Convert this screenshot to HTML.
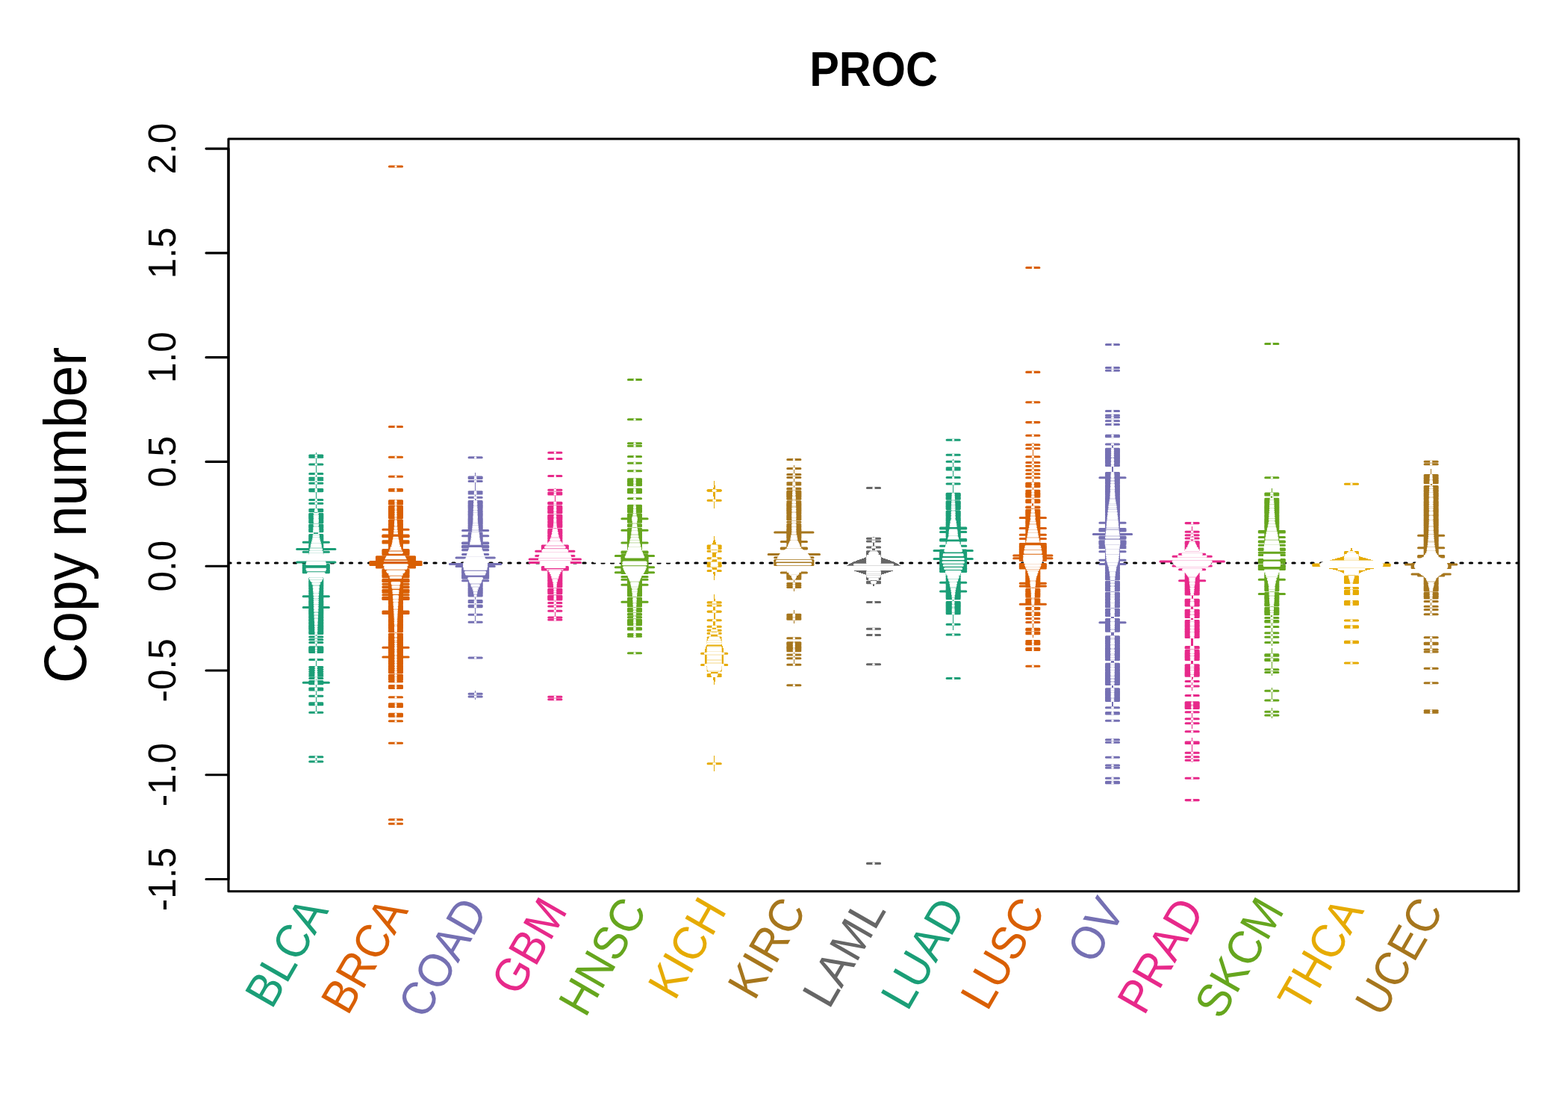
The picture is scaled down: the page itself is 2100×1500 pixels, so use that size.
<!DOCTYPE html>
<html lang="en"><head><meta charset="utf-8"><title>PROC copy number</title>
<style>html,body{margin:0;padding:0;background:#fff}body{width:2100px;height:1500px;overflow:hidden}svg{display:block}text{font-family:"Liberation Sans",sans-serif;fill:#000}.ln path{fill:none;stroke-width:3.125;stroke-linecap:round}.ln path.bn{stroke:none;shape-rendering:crispEdges}.ln path.wi{stroke-width:3.125}.ax{fill:none;stroke:#000;stroke-width:3.125;stroke-linecap:round;stroke-linejoin:round}</style></head><body>
<svg width="2100" height="1500" viewBox="0 0 2100 1500">
<rect width="2100" height="1500" fill="#fff"/>
<defs><clipPath id="pr"><rect x="306.0" y="186.0" width="1728.0" height="1007.8"/></clipPath></defs>
<path d="M306.0 754.0H2034.0" class="ax" stroke-dasharray="3.125 9.375" clip-path="url(#pr)"/>
<path d="M796.67 750.5h106.66" style="fill:none;stroke:#fff;stroke-width:6.25;stroke-linecap:round"/>
<g class="ln">
<g><path d="M423 606H424V684H423ZM422 684H424V685H422ZM422 685H425V686H422ZM421 686H425V687H421ZM421 687H426V693H421ZM421 693H425V701H421ZM421 701H426V711H421ZM420 711H426V716H420ZM420 716H427V722H420ZM419 722H427V723H419ZM419 723H428V726H419ZM418 726H428V727H418ZM418 727H429V729H418ZM417 729H429V731H417ZM417 731H430V734H417ZM416 734H430V735H416ZM416 735H431V738H416ZM415 738H431V740H415ZM415 740H432V744H415ZM414 744H432V745H414ZM414 745H433V747H414ZM413 747H433V748H413ZM413 748H434V750H413ZM412 750H434V751H412ZM412 751H435V753H412ZM411 753H435V755H411ZM411 755H436V763H411ZM411 763H435V764H411ZM412 764H435V767H412ZM412 767H434V768H412ZM413 768H434V770H413ZM413 770H433V771H413ZM414 771H433V772H414ZM414 772H432V773H414ZM415 773H432V774H415ZM415 774H431V775H415ZM416 775H431V776H416ZM416 776H430V777H416ZM417 777H430V778H417ZM417 778H429V779H417ZM418 779H429V780H418ZM418 780H428V781H418ZM419 781H428V782H419ZM419 782H427V783H419ZM420 783H427V786H420ZM420 786H426V790H420ZM421 790H426V801H421ZM421 801H425V815H421ZM422 815H425V831H422ZM422 831H424V838H422ZM423 838H424V865H423ZM423 883H424V954H423ZM423 1012H424V1022H423Z" class="bn" style="fill:#1B9E77"/>
<path d="M414.8 612.2h17.07M414.8 622h17.07M414.8 634.5h17.07M414.8 642.8h17.07M414.8 657.6h17.07M414.8 669.5h17.07M414.8 682.5h17.07M414.8 684.5h17.07M414.8 853h17.07M414.8 856.8h17.07M414.8 905.3h17.07M414.8 908.5h17.07M414.8 912.6h17.07M414.8 922h17.07M414.8 924h17.07M414.8 943.7h17.07M414.8 954.2h17.07M397.73 735.5h51.2M406.27 798.8h34.13M414.8 688.26h17.07M414.8 692.07h17.07M414.8 699.69h17.07M414.8 704.34h17.07M414.8 709.27h17.07M414.8 711.74h17.07M414.8 716.56h17.07M414.8 719.34h17.07M414.8 726.28h17.07M414.8 727.67h17.07M414.8 729.06h17.07M414.8 733.22h17.07M414.8 734.61h17.07M414.8 737.38h17.07M414.8 738.77h17.07M414.8 740.16h17.07M414.8 779.03h17.07M414.8 783.19h17.07M414.8 792.91h17.07M414.8 794.3h17.07M414.8 798.46h17.07M414.8 801.24h17.07M414.8 809.57h17.07M414.8 812.35h17.07M414.8 816.51h17.07M414.8 820.67h17.07M414.8 827.62h17.07M414.8 829h17.07M414.8 831.78h17.07M414.8 833.17h17.07M414.8 835.94h17.07M414.8 837.33h17.07M414.8 840.11h17.07M414.8 847.05h17.07M406.27 757.83h34.13M406.27 761.65h34.13M406.27 762.92h34.13M406.27 765.47h34.13M414.8 869.49h17.07M414.8 872.12h17.07" stroke="#1B9E77"/>
<path d="M423.07 612.2h0.53M423.15 622h0.37M423.06 634.5h0.55M422.95 642.8h0.78M423.04 657.6h0.58M423.08 669.5h0.51M422.75 682.5h1.16M422.35 684.5h1.96M422.87 853h0.94M422.9 856.8h0.86M422.69 905.3h1.29M422.65 908.5h1.37M422.62 912.6h1.43M422.84 922h0.98M422.91 924h0.85M423.05 943.7h0.56M423.17 954.2h0.32M416.12 735.5h14.42M421.06 798.8h4.55M421.07 688.26h4.53M421.14 692.07h4.39M421.21 699.69h4.25M420.94 704.34h4.78M420.62 709.27h5.44M420.45 711.74h5.76M420.14 716.56h6.39M419.95 719.34h6.77M418.3 726.28h10.07M417.94 727.67h10.79M417.58 729.06h11.5M416.62 733.22h13.42M416.32 734.61h14.03M415.71 737.38h15.25M415.41 738.77h15.86M415.13 740.16h16.42M414.66 742.94h17.34M414.06 745.71h18.56M412.11 751.27h22.45M410.67 756.82h25.32M410.62 758.21h25.43M410.79 760.98h25.09M411.33 763.76h24M412.12 766.54h22.43M417.76 779.03h11.14M419.48 783.19h7.7M420.71 792.91h5.25M420.79 794.3h5.08M421.04 798.46h4.58M421.16 801.24h4.35M421.35 809.57h3.96M421.42 812.35h3.83M421.58 816.51h3.51M421.75 820.67h3.17M422.04 827.62h2.6M422.09 829h2.48M422.22 831.78h2.23M422.28 833.17h2.11M422.41 835.94h1.85M422.47 837.33h1.73M422.59 840.11h1.49M422.8 847.05h1.06M423.27 869.49h0.14M423.28 872.12h0.1" stroke="#fff" class="wi"/>
<path d="M414.8 610h17.07M414.8 674.3h17.07M414.8 860.5h17.07M414.8 896.5h17.07M414.8 902.5h17.07M414.8 941.7h17.07M406.27 726.2h34.13M414.8 689.53h17.07M414.8 694.61h17.07M414.8 695.88h17.07M414.8 697.15h17.07M414.8 698.42h17.07M414.8 705.58h17.07M414.8 717.95h17.07M414.8 722.12h17.07M414.8 724.89h17.07M414.8 731.83h17.07M414.8 741.55h17.07M414.8 776.25h17.07M414.8 777.64h17.07M414.8 780.42h17.07M414.8 784.58h17.07M414.8 788.75h17.07M414.8 790.13h17.07M414.8 791.52h17.07M414.8 795.69h17.07M414.8 797.08h17.07M414.8 802.63h17.07M414.8 804.02h17.07M414.8 806.79h17.07M414.8 810.96h17.07M414.8 819.29h17.07M414.8 823.45h17.07M414.8 824.84h17.07M414.8 830.39h17.07M414.8 834.56h17.07M414.8 842.88h17.07M414.8 844.27h17.07M414.8 845.66h17.07M406.27 756.56h34.13M406.27 760.38h34.13M406.27 764.19h34.13M414.8 866.86h17.07M414.8 870.81h17.07" stroke="#1B9E77"/>
<path d="M423.09 610h0.5M423.01 674.3h0.64M423.02 860.5h0.62M422.85 896.5h0.97M422.73 902.5h1.21M423.05 941.7h0.57M418.32 726.2h10.02M421.08 689.53h4.51M421.18 694.61h4.3M421.2 695.88h4.27M421.21 697.15h4.24M421.22 698.42h4.23M420.86 705.58h4.94M420.06 717.95h6.55M419.38 722.12h7.9M418.66 724.89h9.34M416.93 731.83h12.81M414.89 741.55h16.9M413.09 748.49h20.49M412.59 749.88h21.48M411.68 752.65h23.31M411.3 754.04h24.06M410.69 759.6h25.29M410.99 762.37h24.69M411.73 765.15h23.22M413.01 769.31h20.65M413.51 770.7h19.66M414.02 772.09h18.62M414.65 773.48h17.37M416.19 776.25h14.28M416.99 777.64h12.7M418.44 780.42h9.79M419.92 784.58h6.82M420.43 788.75h5.8M420.54 790.13h5.6M420.62 791.52h5.42M420.87 795.69h4.92M420.96 797.08h4.75M421.19 802.63h4.28M421.23 804.02h4.21M421.29 806.79h4.09M421.39 810.96h3.89M421.69 819.29h3.28M421.86 823.45h2.94M421.92 824.84h2.83M422.15 830.39h2.36M422.34 834.56h1.98M422.69 842.88h1.28M422.74 844.27h1.19M422.77 845.66h1.12M423.22 866.86h0.23M423.28 870.81h0.11" stroke="#fff" class="wi"/>
<path d="M414.8 640.3h17.07M414.8 647.3h17.07M414.8 655.5h17.07M414.8 883.5h17.07M414.8 893.5h17.07M414.8 899.5h17.07M414.8 915.8h17.07M414.8 932.3h17.07M414.8 1013.7h17.07M414.8 1020h17.07M406.27 739.2h34.13M397.73 753h51.2M406.27 813.5h34.13M406.27 914.2h34.13M414.8 690.8h17.07M414.8 693.34h17.07M414.8 703.11h17.07M414.8 706.81h17.07M414.8 708.04h17.07M414.8 710.51h17.07M414.8 720.73h17.07M414.8 723.5h17.07M414.8 730.44h17.07M414.8 736h17.07M414.8 774.87h17.07M414.8 781.81h17.07M414.8 785.97h17.07M414.8 787.36h17.07M414.8 799.85h17.07M414.8 805.4h17.07M414.8 808.18h17.07M414.8 813.73h17.07M414.8 815.12h17.07M414.8 817.9h17.07M414.8 822.06h17.07M414.8 826.23h17.07M414.8 838.72h17.07M414.8 841.5h17.07M414.8 848.44h17.07M406.27 759.11h34.13M406.27 766.74h34.13M414.8 868.18h17.07M414.8 873.44h17.07" stroke="#1B9E77"/>
<path d="M422.96 640.3h0.75M422.97 647.3h0.73M423.02 655.5h0.62M423.16 883.5h0.34M422.94 893.5h0.8M422.78 899.5h1.11M422.65 915.8h1.36M423.07 932.3h0.52M423.14 1013.7h0.38M423.14 1020h0.38M415.31 739.2h16.04M411.58 753h23.51M421.46 813.5h3.75M422.63 914.2h1.41M421.11 690.8h4.44M421.16 693.34h4.34M421.02 703.11h4.62M420.78 706.81h5.11M420.7 708.04h5.27M420.53 710.51h5.6M419.72 720.73h7.22M419.02 723.5h8.62M417.24 730.44h12.18M416.01 736h14.64M414.42 744.33h17.84M413.58 747.1h19.5M410.94 755.43h24.78M412.54 767.92h21.59M415.4 774.87h15.87M418.98 781.81h8.7M420.19 785.97h6.28M420.32 787.36h6.02M421.11 799.85h4.44M421.26 805.4h4.15M421.32 808.18h4.02M421.47 813.73h3.74M421.52 815.12h3.63M421.63 817.9h3.4M421.81 822.06h3.05M421.98 826.23h2.71M422.53 838.72h1.61M422.64 841.5h1.38M422.83 848.44h1.02M423.25 868.18h0.18M423.28 873.44h0.1" stroke="#fff" class="wi"/></g>
<g><path d="M529 700H531V713H529ZM528 713H532V721H528ZM527 721H533V726H527ZM526 726H534V731H526ZM525 731H535V733H525ZM524 733H536V736H524ZM523 736H537V738H523ZM522 738H538V740H522ZM521 740H539V742H521ZM520 742H540V744H520ZM519 744H541V746H519ZM518 746H542V748H518ZM517 748H543V750H517ZM516 750H544V752H516ZM515 752H545V754H515ZM514 754H546V756H514ZM515 756H545V759H515ZM516 759H544V762H516ZM517 762H543V763H517ZM518 763H542V765H518ZM519 765H541V766H519ZM520 766H540V768H520ZM521 768H539V769H521ZM522 769H538V771H522ZM523 771H537V775H523ZM524 775H536V778H524ZM525 778H535V783H525ZM526 783H534V789H526ZM527 789H533V800H527ZM528 800H532V818H528ZM529 818H531V848H529Z" class="bn" style="fill:#D95F02"/>
<path d="M521.47 912.8h17.07M512.93 709.2h34.13M512.93 880h34.13M521.47 682.55h17.07M521.47 686.69h17.07M521.47 689.45h17.07M521.47 693.59h17.07M521.47 697.01h17.07M521.47 703.96h17.07M521.47 705.36h17.07M521.47 708.14h17.07M521.47 712.31h17.07M521.47 716.48h17.07M521.47 719.26h17.07M521.47 735.94h17.07M521.47 770.7h17.07M521.47 772.1h17.07M521.47 774.88h17.07M521.47 776.27h17.07M521.47 783.22h17.07M521.47 788.78h17.07M521.47 790.17h17.07M521.47 795.73h17.07M521.47 806.86h17.07M521.47 812.42h17.07M521.47 815.2h17.07M521.47 816.59h17.07M521.47 819.37h17.07M521.47 822.15h17.07M521.47 827.71h17.07M521.47 829.1h17.07M521.47 837.44h17.07M521.47 849.21h17.07M521.47 853.39h17.07M521.47 858.97h17.07M521.47 860.36h17.07M521.47 863.15h17.07M521.47 865.94h17.07M521.47 867.33h17.07M521.47 878.48h17.07M521.47 881.27h17.07M521.47 885.45h17.07M521.47 895.21h17.07M521.47 908.95h17.07M521.47 910.14h17.07M512.93 717.95h34.13M512.93 724.76h34.13M512.93 725.9h34.13M512.93 727.04h34.13M512.93 737.78h34.13M504.4 745.76h51.2M504.4 747.05h51.2M504.4 748.34h51.2M504.4 749.63h51.2M504.4 756.07h51.2M495.87 755.15h68.27M495.87 756.44h68.27M512.93 763.06h34.13M512.93 765.8h34.13M512.93 771.27h34.13M512.93 772.64h34.13M512.93 778.64h34.13M512.93 785.86h34.13M512.93 786.64h34.13M512.93 791.75h34.13M512.93 793.14h34.13M521.47 918.56h17.07M521.47 919.52h17.07M521.47 921.44h17.07M521.47 959.24h17.07" stroke="#D95F02"/>
<path d="M529.86 912.8h0.29M528.85 709.2h2.29M529.73 880h0.55M529.84 682.55h0.33M529.82 686.69h0.37M529.8 689.45h0.4M529.69 693.59h0.62M529.59 697.01h0.82M529.22 703.96h1.56M529.13 705.36h1.75M528.93 708.14h2.14M528.57 712.31h2.86M528.15 716.48h3.7M527.86 719.26h4.27M523.42 735.94h13.16M520.97 741.51h18.06M517.19 748.46h25.62M516.5 749.85h27M515.83 751.24h28.35M514.53 754.02h30.93M515.14 758.19h29.72M516.84 762.36h26.32M517.75 763.75h24.5M520.72 767.92h18.56M522.35 770.7h15.31M522.79 772.1h14.43M523.57 774.88h12.87M523.95 776.27h12.09M525.51 783.22h8.97M526.4 788.78h7.2M526.59 790.17h6.81M527.12 795.73h5.77M527.88 806.86h4.25M528.18 812.42h3.63M528.34 815.2h3.33M528.41 816.59h3.18M528.56 819.37h2.87M528.71 822.15h2.58M528.99 827.71h2.03M529.05 829.1h1.89M529.32 837.44h1.35M529.52 849.21h0.97M529.57 853.39h0.87M529.64 858.97h0.73M529.65 860.36h0.7M529.66 863.15h0.68M529.67 865.94h0.66M529.68 867.33h0.64M529.72 878.48h0.56M529.73 881.27h0.54M529.75 885.45h0.51M529.78 895.21h0.44M529.84 908.95h0.33M529.84 910.14h0.31M529.93 918.56h0.13M529.95 919.52h0.11M529.96 921.44h0.07M529.97 959.24h0.05" stroke="#fff" class="wi"/>
<path d="M521.47 571.5h17.07M521.47 655.5h17.07M521.47 657.2h17.07M521.47 965.8h17.07M521.47 1103.3h17.07M521.47 670.76h17.07M521.47 671.82h17.07M521.47 672.88h17.07M521.47 673.93h17.07M521.47 678.41h17.07M521.47 681.17h17.07M521.47 683.93h17.07M521.47 692.21h17.07M521.47 706.75h17.07M521.47 709.53h17.07M521.47 713.7h17.07M521.47 715.09h17.07M521.47 717.87h17.07M521.47 720.65h17.07M521.47 722.04h17.07M521.47 726.21h17.07M521.47 728.99h17.07M521.47 731.77h17.07M521.47 733.16h17.07M521.47 734.55h17.07M521.47 737.33h17.07M521.47 738.73h17.07M521.47 777.66h17.07M521.47 779.05h17.07M521.47 784.61h17.07M521.47 787.39h17.07M521.47 792.95h17.07M521.47 797.12h17.07M521.47 802.68h17.07M521.47 804.07h17.07M521.47 805.47h17.07M521.47 817.98h17.07M521.47 820.76h17.07M521.47 824.93h17.07M521.47 831.88h17.07M521.47 836.05h17.07M521.47 838.84h17.07M521.47 845.79h17.07M521.47 854.79h17.07M521.47 857.58h17.07M521.47 861.76h17.07M521.47 870.12h17.07M521.47 872.91h17.07M521.47 877.09h17.07M521.47 879.88h17.07M521.47 888.24h17.07M521.47 892.42h17.07M521.47 898h17.07M521.47 899.39h17.07M521.47 900.79h17.07M521.47 904.21h17.07M521.47 905.4h17.07M521.47 906.58h17.07M512.93 718.74h34.13M512.93 736.56h34.13M512.93 740.21h34.13M504.4 750.92h51.2M504.4 752.21h51.2M504.4 757.36h51.2M504.4 758.65h51.2M504.4 759.94h51.2M495.87 752.56h68.27M495.87 753.85h68.27M512.93 767.17h34.13M512.93 768.53h34.13M512.93 769.9h34.13M512.93 782.25h34.13M512.93 800.36h34.13M512.93 802.44h34.13M512.93 819.06h34.13M512.93 820.25h34.13M512.93 821.44h34.13M521.47 942.86h17.07M521.47 944.05h17.07M521.47 946.44h17.07M521.47 958.25h17.07" stroke="#D95F02"/>
<path d="M529.95 571.5h0.09M529.91 655.5h0.18M529.91 657.2h0.19M529.95 965.8h0.09M529.92 1103.3h0.15M529.89 670.76h0.23M529.88 671.82h0.24M529.88 672.88h0.24M529.87 673.93h0.25M529.86 678.41h0.29M529.84 681.17h0.32M529.83 683.93h0.34M529.73 692.21h0.53M529.03 706.75h1.94M528.83 709.53h2.35M528.43 713.7h3.14M528.29 715.09h3.42M528.01 717.87h3.97M527.66 720.65h4.69M527.39 722.04h5.22M526.56 726.21h6.88M525.99 728.99h8.02M525.09 731.77h9.82M524.53 733.16h10.93M523.98 734.55h12.04M522.87 737.33h14.27M522.3 738.73h15.39M520.21 742.9h19.59M519.44 744.29h21.12M518.68 745.68h22.64M515.15 752.63h29.7M514.33 755.41h31.34M515.64 759.58h28.73M516.16 760.97h27.69M524.34 777.66h11.31M524.72 779.05h10.55M525.74 784.61h8.53M526.18 787.39h7.64M526.87 792.95h6.27M527.24 797.12h5.52M527.65 802.68h4.7M527.72 804.07h4.55M527.8 805.47h4.4M528.49 817.98h3.02M528.64 820.76h2.73M528.85 824.93h2.31M529.16 831.88h1.69M529.28 836.05h1.44M529.36 838.84h1.27M529.47 845.79h1.06M529.58 854.79h0.83M529.62 857.58h0.76M529.66 861.76h0.69M529.69 870.12h0.62M529.7 872.91h0.6M529.71 877.09h0.57M529.72 879.88h0.55M529.76 888.24h0.49M529.77 892.42h0.46M529.79 898h0.42M529.79 899.39h0.41M529.8 900.79h0.4M529.82 904.21h0.36M529.82 905.4h0.35M529.83 906.58h0.35M529.98 942.86h0.03M529.99 944.05h0.02M529.99 946.44h0.01M529.98 958.25h0.04" stroke="#fff" class="wi"/>
<path d="M521.47 223h17.07M521.47 612.2h17.07M521.47 638.3h17.07M521.47 933.7h17.07M521.47 995.3h17.07M521.47 1097.7h17.07M512.93 867.3h34.13M521.47 674.99h17.07M521.47 679.79h17.07M521.47 685.31h17.07M521.47 688.07h17.07M521.47 690.83h17.07M521.47 698.4h17.07M521.47 699.79h17.07M521.47 701.18h17.07M521.47 702.57h17.07M521.47 710.92h17.07M521.47 723.43h17.07M521.47 724.82h17.07M521.47 727.6h17.07M521.47 730.38h17.07M521.47 740.12h17.07M521.47 769.31h17.07M521.47 773.49h17.07M521.47 780.44h17.07M521.47 781.83h17.07M521.47 786h17.07M521.47 791.56h17.07M521.47 794.34h17.07M521.47 798.51h17.07M521.47 799.9h17.07M521.47 801.29h17.07M521.47 808.25h17.07M521.47 809.64h17.07M521.47 811.03h17.07M521.47 813.81h17.07M521.47 823.54h17.07M521.47 826.32h17.07M521.47 830.49h17.07M521.47 833.27h17.07M521.47 834.66h17.07M521.47 840.23h17.07M521.47 841.62h17.07M521.47 843.01h17.07M521.47 844.4h17.07M521.47 850.61h17.07M521.47 852h17.07M521.47 856.18h17.07M521.47 864.55h17.07M521.47 868.73h17.07M521.47 871.52h17.07M521.47 874.3h17.07M521.47 875.7h17.07M521.47 882.67h17.07M521.47 884.06h17.07M521.47 886.85h17.07M521.47 889.64h17.07M521.47 891.03h17.07M521.47 893.82h17.07M521.47 896.61h17.07M521.47 907.77h17.07M512.93 717.16h34.13M512.93 738.99h34.13M512.93 741.42h34.13M512.93 742.64h34.13M504.4 753.49h51.2M504.4 754.78h51.2M512.93 764.43h34.13M512.93 776.36h34.13M512.93 777.5h34.13M512.93 790.36h34.13M512.93 796.75h34.13M512.93 801.4h34.13M521.47 920.48h17.07M521.47 945.25h17.07M521.47 956.26h17.07M521.47 957.25h17.07" stroke="#D95F02"/>
<path d="M529.95 223h0.09M529.95 612.2h0.09M529.95 638.3h0.09M529.95 933.7h0.09M529.95 995.3h0.09M529.92 1097.7h0.15M529.68 867.3h0.65M529.87 674.99h0.26M529.85 679.79h0.3M529.82 685.31h0.36M529.81 688.07h0.38M529.77 690.83h0.45M529.55 698.4h0.9M529.49 699.79h1.01M529.42 701.18h1.17M529.32 702.57h1.36M528.71 710.92h2.59M527.11 723.43h5.77M526.84 724.82h6.33M526.28 727.6h7.44M525.6 730.38h8.8M521.69 740.12h16.62M517.92 747.07h24.16M514.64 756.8h30.71M518.74 765.14h22.52M519.73 766.53h20.54M521.66 769.31h16.69M523.18 773.49h13.65M525.04 780.44h9.91M525.29 781.83h9.41M525.96 786h8.08M526.74 791.56h6.52M526.99 794.34h6.02M527.37 798.51h5.27M527.48 799.9h5.04M527.57 801.29h4.86M527.95 808.25h4.09M528.03 809.64h3.94M528.11 811.03h3.79M528.26 813.81h3.48M528.78 823.54h2.45M528.92 826.32h2.17M529.11 830.49h1.78M529.2 833.27h1.6M529.24 834.66h1.52M529.4 840.23h1.2M529.42 841.62h1.16M529.44 843.01h1.12M529.45 844.4h1.09M529.53 850.61h0.93M529.55 852h0.9M529.6 856.18h0.8M529.67 864.55h0.67M529.68 868.73h0.63M529.69 871.52h0.61M529.7 874.3h0.59M529.71 875.7h0.58M529.73 882.67h0.53M529.74 884.06h0.52M529.75 886.85h0.5M529.76 889.64h0.48M529.77 891.03h0.47M529.78 893.82h0.45M529.79 896.61h0.43M529.83 907.77h0.34M529.96 920.48h0.09M529.99 945.25h0.02M529.99 956.26h0.03M529.98 957.25h0.03" stroke="#fff" class="wi"/></g>
<g><path d="M636 633H637V669H636ZM636 669H638V671H636ZM635 671H638V693H635ZM635 693H639V700H635ZM634 700H639V706H634ZM634 706H640V709H634ZM633 709H640V714H633ZM633 714H641V717H633ZM632 717H641V722H632ZM632 722H642V723H632ZM631 723H642V727H631ZM631 727H643V728H631ZM630 728H643V731H630ZM630 731H644V733H630ZM629 733H644V735H629ZM629 735H645V737H629ZM628 737H645V739H628ZM628 739H646V740H628ZM627 740H646V742H627ZM627 742H647V744H627ZM626 744H647V745H626ZM626 745H648V746H626ZM625 746H648V747H625ZM625 747H649V748H625ZM624 748H649V749H624ZM624 749H650V750H624ZM623 750H650V751H623ZM623 751H651V752H623ZM622 752H651V755H622ZM622 755H652V760H622ZM622 760H651V763H622ZM623 763H651V764H623ZM623 764H650V766H623ZM624 766H650V767H624ZM624 767H649V768H624ZM625 768H649V769H625ZM625 769H648V771H625ZM626 771H647V772H626ZM627 772H647V773H627ZM627 773H646V774H627ZM628 774H646V775H628ZM628 775H645V776H628ZM629 776H645V777H629ZM629 777H644V778H629ZM630 778H644V779H630ZM630 779H643V781H630ZM631 781H642V783H631ZM632 783H642V784H632ZM632 784H641V785H632ZM633 785H641V786H633ZM633 786H640V787H633ZM634 787H640V788H634ZM634 788H639V790H634ZM635 790H639V791H635ZM635 791H638V794H635ZM636 794H638V796H636ZM636 796H637V834H636ZM636 925H637V937H636Z" class="bn" style="fill:#7570B3"/>
<path d="M628.13 811h17.07M628.13 929.2h17.07M628.13 933h17.07M619.6 710.5h34.13M602.53 755.5h68.27M611.07 758.5h51.2M628.13 677.11h17.07M628.13 679.88h17.07M628.13 681.27h17.07M628.13 682.66h17.07M628.13 684.04h17.07M628.13 689.59h17.07M628.13 695.13h17.07M628.13 700.68h17.07M628.13 710.39h17.07M628.13 719.33h17.07M628.13 722.09h17.07M628.13 728.98h17.07M628.13 733.12h17.07M628.13 781.39h17.07M628.13 789.66h17.07M628.13 792.42h17.07M628.13 795.18h17.07M628.13 796.56h17.07M619.6 727.64h34.13M619.6 732.94h34.13M619.6 736.65h34.13M619.6 767.6h34.13M619.6 768.91h34.13M619.6 770.22h34.13" stroke="#7570B3"/>
<path d="M636.18 811h0.98M636.41 929.2h0.51M636.41 933h0.51M633.31 710.5h6.72M621.72 755.5h29.89M621.67 758.5h29.99M635.37 677.11h2.59M635.29 679.88h2.75M635.25 681.27h2.84M635.2 682.66h2.94M635.15 684.04h3.03M634.95 689.59h3.44M634.75 695.13h3.84M634.47 700.68h4.38M633.32 710.39h6.69M632.24 719.33h8.86M631.75 722.09h9.83M630.37 728.98h12.6M629.39 733.12h14.56M627.63 740.02h18.07M625.76 745.53h21.8M622.44 752.43h28.46M621.67 756.56h30M621.88 760.7h29.57M622.98 764.84h27.37M624.11 767.6h25.11M625.42 770.36h22.5M626.21 771.73h20.92M630.79 781.39h11.75M634.45 789.66h4.44M635.15 792.42h3.04M635.69 795.18h1.95M635.95 796.56h1.44" stroke="#fff" class="wi"/>
<path d="M628.13 639h17.07M628.13 658.7h17.07M628.13 661h17.07M628.13 804.6h17.07M628.13 823.3h17.07M628.13 881h17.07M619.6 742.5h34.13M628.13 672.95h17.07M628.13 678.5h17.07M628.13 685.43h17.07M628.13 686.82h17.07M628.13 697.91h17.07M628.13 702.07h17.07M628.13 703.45h17.07M628.13 706.23h17.07M628.13 709h17.07M628.13 724.85h17.07M628.13 726.22h17.07M628.13 727.6h17.07M628.13 730.36h17.07M628.13 731.74h17.07M628.13 735.88h17.07M628.13 777.25h17.07M628.13 782.77h17.07M628.13 785.53h17.07M628.13 786.9h17.07M628.13 793.8h17.07M628.13 797.94h17.07M619.6 727.06h34.13M619.6 732.15h34.13M619.6 763.68h34.13M619.6 766.29h34.13M619.6 771.52h34.13M619.6 774.14h34.13M619.6 777.75h34.13" stroke="#7570B3"/>
<path d="M636.3 639h0.73M636.28 658.7h0.77M636.21 661h0.92M636.14 804.6h1.06M636.44 823.3h0.46M636.53 881h0.28M626.83 742.5h19.67M635.45 672.95h2.43M635.33 678.5h2.67M635.1 685.43h3.13M635.05 686.82h3.23M634.64 697.91h4.05M634.32 702.07h4.7M634.15 703.45h5.03M633.82 706.23h5.69M633.49 709h6.36M631.2 724.85h10.94M630.92 726.22h11.49M630.65 727.6h12.04M630.06 730.36h13.2M629.73 731.74h13.87M628.7 735.88h15.94M626.28 744.15h20.77M624.24 748.29h24.86M622.04 753.81h29.26M621.67 757.94h30M622.57 763.46h28.2M624.73 768.98h23.88M627.03 773.11h19.26M629.07 777.25h15.2M631.41 782.77h10.51M632.65 785.53h8.03M633.27 786.9h6.79M635.42 793.8h2.49M636.14 797.94h1.04" stroke="#fff" class="wi"/>
<path d="M628.13 612.8h17.07M628.13 640.5h17.07M628.13 644.5h17.07M628.13 666.3h17.07M628.13 806.4h17.07M628.13 812.6h17.07M628.13 833.3h17.07M619.6 717.8h34.13M611.07 747h51.2M628.13 671.56h17.07M628.13 674.34h17.07M628.13 675.72h17.07M628.13 688.2h17.07M628.13 690.97h17.07M628.13 692.36h17.07M628.13 693.75h17.07M628.13 696.52h17.07M628.13 699.29h17.07M628.13 704.84h17.07M628.13 707.61h17.07M628.13 713.81h17.07M628.13 715.19h17.07M628.13 716.57h17.07M628.13 717.95h17.07M628.13 720.71h17.07M628.13 723.47h17.07M628.13 734.5h17.07M628.13 737.26h17.07M628.13 775.87h17.07M628.13 778.63h17.07M628.13 780.01h17.07M628.13 784.15h17.07M628.13 788.28h17.07M628.13 791.04h17.07M619.6 731.36h34.13M619.6 761.06h34.13M619.6 762.37h34.13M619.6 764.99h34.13M619.6 772.83h34.13" stroke="#7570B3"/>
<path d="M636.53 612.8h0.28M636.28 640.5h0.77M636.31 644.5h0.72M636.09 666.3h1.15M636.13 806.4h1.07M636.22 812.6h0.9M636.49 833.3h0.35M632.43 717.8h8.47M625.02 747h23.29M635.47 671.56h2.4M635.43 674.34h2.47M635.4 675.72h2.53M635 688.2h3.34M634.9 690.97h3.54M634.85 692.36h3.64M634.8 693.75h3.74M634.69 696.52h3.94M634.58 699.29h4.17M633.99 704.84h5.36M633.65 707.61h6.03M632.91 713.81h7.51M632.74 715.19h7.85M632.58 716.57h8.18M632.41 717.95h8.51M632.02 720.71h9.3M631.47 723.47h10.39M629.04 734.5h15.25M628.35 737.26h16.63M628.01 738.64h17.32M627.2 741.39h18.93M626.74 742.77h19.85M625.08 746.91h23.18M623.45 749.67h26.43M622.87 751.05h27.59M621.75 755.19h29.82M621.7 759.32h29.93M622.21 762.08h28.92M623.51 766.22h26.31M627.83 774.49h17.68M628.5 775.87h16.33M629.62 778.63h14.09M630.19 780.01h12.96M632.03 784.15h9.27M633.89 788.28h5.56M634.85 791.04h3.63" stroke="#fff" class="wi"/></g>
<g><path d="M743 654H744V702H743ZM742 702H744V705H742ZM742 705H745V709H742ZM741 709H745V710H741ZM741 710H746V713H741ZM740 713H746V715H740ZM740 715H747V718H740ZM739 718H747V719H739ZM739 719H748V721H739ZM738 721H748V722H738ZM738 722H749V724H738ZM737 724H750V726H737ZM736 726H751V727H736ZM735 727H751V728H735ZM734 728H752V729H734ZM734 729H753V730H734ZM733 730H754V731H733ZM732 731H755V732H732ZM731 732H756V733H731ZM730 733H757V734H730ZM729 734H757V735H729ZM729 735H758V736H729ZM728 736H759V737H728ZM727 737H759V738H727ZM727 738H760V739H727ZM726 739H761V741H726ZM725 741H762V742H725ZM724 742H762V743H724ZM724 743H763V744H724ZM723 744H763V745H723ZM723 745H764V748H723ZM722 748H764V750H722ZM723 750H764V752H723ZM723 752H763V753H723ZM724 753H763V754H724ZM725 754H762V755H725ZM726 755H761V756H726ZM727 756H760V757H727ZM728 757H759V758H728ZM729 758H757V759H729ZM731 759H756V760H731ZM732 760H755V761H732ZM733 761H754V762H733ZM734 762H753V763H734ZM735 763H752V764H735ZM736 764H751V765H736ZM736 765H750V766H736ZM737 766H750V767H737ZM738 767H749V769H738ZM739 769H748V771H739ZM739 771H747V772H739ZM740 772H747V774H740ZM740 774H746V776H740ZM741 776H746V778H741ZM741 778H745V779H741ZM742 779H745V783H742ZM742 783H744V787H742ZM743 787H744V831H743Z" class="bn" style="fill:#E7298A"/>
<path d="M734.8 606.2h17.07M734.8 656.3h17.07M734.8 660h17.07M734.8 936.7h17.07M717.73 744.5h51.2M734.8 680.66h17.07M734.8 685.56h17.07M734.8 690.21h17.07M734.8 694.11h17.07M734.8 699.3h17.07M734.8 700.6h17.07M734.8 701.89h17.07M734.8 704.49h17.07M734.8 705.79h17.07M734.8 718.96h17.07M734.8 720.35h17.07M734.8 724.53h17.07M734.8 763.51h17.07M734.8 769.08h17.07M734.8 774.65h17.07M734.8 776.04h17.07M734.8 783h17.07M734.8 790.61h17.07M734.8 793.39h17.07M734.8 794.79h17.07M734.8 800.58h17.07M734.8 802.94h17.07M726.27 761.81h34.13M726.27 762.94h34.13" stroke="#E7298A"/>
<path d="M743.21 606.2h0.24M743.12 656.3h0.43M743.07 660h0.53M743.18 936.7h0.32M723.47 744.5h39.73M742.8 680.66h1.07M742.78 685.56h1.1M742.77 690.21h1.13M742.75 694.11h1.16M742.72 699.3h1.22M742.65 700.6h1.37M742.52 701.89h1.63M742.22 704.49h2.23M742.07 705.79h2.53M739.21 718.96h8.25M738.82 720.35h9.03M737.09 724.53h12.48M726.76 738.45h33.14M723.69 744.02h39.29M722.38 749.59h41.91M722.71 750.98h41.24M723.41 752.37h39.84M724.2 753.77h38.27M728.66 757.94h29.35M734.84 763.51h16.99M738.36 769.08h9.95M740.23 774.65h6.21M740.65 776.04h5.38M742.13 783h2.4M742.83 790.61h1.01M742.87 793.39h0.92M742.89 794.79h0.9M742.91 800.58h0.84M742.91 802.94h0.85" stroke="#fff" class="wi"/>
<path d="M734.8 614.5h17.07M734.8 637.5h17.07M734.8 662h17.07M734.8 818.3h17.07M734.8 830h17.07M734.8 933.3h17.07M734.8 674.03h17.07M734.8 674.79h17.07M734.8 678.21h17.07M734.8 679.44h17.07M734.8 681.89h17.07M734.8 683.11h17.07M734.8 684.34h17.07M734.8 692.81h17.07M734.8 712h17.07M734.8 714.78h17.07M734.8 716.17h17.07M734.8 725.92h17.07M734.8 727.31h17.07M734.8 766.3h17.07M734.8 771.86h17.07M734.8 778.83h17.07M734.8 780.22h17.07M734.8 785.79h17.07M734.8 792h17.07M734.8 798.21h17.07M726.27 731.06h34.13M726.27 734.94h34.13" stroke="#E7298A"/>
<path d="M743.21 614.5h0.24M743.25 637.5h0.17M743.04 662h0.59M743.13 818.3h0.41M743.16 830h0.35M743.18 933.3h0.32M742.8 674.03h1.06M742.8 674.79h1.06M742.8 678.21h1.06M742.8 679.44h1.06M742.8 681.89h1.08M742.79 683.11h1.08M742.79 684.34h1.09M742.76 692.81h1.15M740.72 712h5.24M740.13 714.78h6.41M739.84 716.17h6.99M736.3 725.92h14.07M735.33 727.31h16M734.29 728.7h18.09M733.15 730.1h20.36M731.84 731.49h22.98M729.4 734.27h27.86M728.45 735.67h29.76M725.95 739.84h34.77M725.17 741.23h36.33M724.41 742.63h37.84M722.77 746.8h41.12M722.49 748.2h41.68M726.85 756.55h32.96M732.03 760.73h22.61M733.45 762.12h19.76M736.96 766.3h12.74M739.39 771.86h7.88M741.47 778.83h3.72M741.8 780.22h3.07M742.41 785.79h1.84M742.86 792h0.95M742.91 798.21h0.85" stroke="#fff" class="wi"/>
<path d="M734.8 807.5h17.07M734.8 812h17.07M734.8 827h17.07M717.73 738.3h51.2M709.2 749h68.27M709.2 753.5h68.27M734.8 673.26h17.07M734.8 686.79h17.07M734.8 691.51h17.07M734.8 695.4h17.07M734.8 696.7h17.07M734.8 698h17.07M734.8 703.19h17.07M734.8 709.21h17.07M734.8 710.6h17.07M734.8 713.39h17.07M734.8 717.57h17.07M734.8 721.74h17.07M734.8 723.14h17.07M734.8 764.9h17.07M734.8 767.69h17.07M734.8 770.47h17.07M734.8 773.26h17.07M734.8 777.43h17.07M734.8 781.61h17.07M734.8 784.4h17.07M734.8 789.21h17.07M734.8 799.39h17.07M734.8 801.76h17.07M726.27 732.35h34.13M726.27 733.65h34.13M726.27 759.56h34.13M726.27 760.69h34.13" stroke="#E7298A"/>
<path d="M742.91 807.5h0.85M743.04 812h0.6M743.14 827h0.39M726.85 738.3h32.96M722.38 749h41.9M724.03 753.5h38.6M742.8 673.26h1.07M742.78 686.79h1.11M742.76 691.51h1.14M742.75 695.4h1.17M742.74 696.7h1.18M742.74 698h1.19M742.37 703.19h1.93M741.38 709.21h3.91M741.04 710.6h4.59M740.42 713.39h5.83M739.54 717.57h7.58M738.36 721.74h9.95M737.77 723.14h11.12M730.53 732.88h25.6M727.6 737.06h31.47M723.13 745.41h40.42M725.27 755.16h36.13M730.43 759.33h25.81M736.08 764.9h14.52M737.68 767.69h11.31M738.94 770.47h8.8M739.81 773.26h7.05M741.06 777.43h4.54M741.99 781.61h2.68M742.27 784.4h2.12M742.75 789.21h1.18M742.91 799.39h0.84M742.91 801.76h0.84" stroke="#fff" class="wi"/></g>
<g><path d="M849 679H851V691H849ZM848 691H852V708H848ZM847 708H853V715H847ZM846 715H854V721H846ZM845 721H855V726H845ZM844 726H856V730H844ZM843 730H857V734H843ZM842 734H858V738H842ZM841 738H859V741H841ZM840 741H860V743H840ZM839 743H861V745H839ZM838 745H862V747H838ZM837 747H863V749H837ZM836 749H864V752H836ZM835 752H865V760H835ZM836 760H864V762H836ZM837 762H863V764H837ZM838 764H862V766H838ZM839 766H861V768H839ZM840 768H860V769H840ZM841 769H859V771H841ZM842 771H858V773H842ZM843 773H857V775H843ZM844 775H856V777H844ZM845 777H856V778H845ZM845 778H855V780H845ZM846 780H854V785H846ZM847 785H853V790H847ZM848 790H852V800H848ZM849 800H851V830H849Z" class="bn" style="fill:#66A61E"/>
<path d="M841.47 508.5h17.07M841.47 593.8h17.07M841.47 630.8h17.07M832.93 710.3h34.13M832.93 739h34.13M832.93 740.3h34.13M824.4 766.8h51.2M832.93 772.5h34.13M841.47 655.26h17.07M841.47 677.36h17.07M841.47 681.5h17.07M841.47 682.88h17.07M841.47 684.26h17.07M841.47 690.34h17.07M841.47 691.62h17.07M841.47 703.75h17.07M841.47 716.61h17.07M841.47 720.81h17.07M841.47 726.41h17.07M841.47 727.81h17.07M841.47 736.2h17.07M841.47 771.19h17.07M841.47 775.39h17.07M841.47 778.19h17.07M841.47 779.59h17.07M841.47 785.19h17.07M841.47 786.59h17.07M841.47 787.99h17.07M841.47 794.99h17.07M841.47 801.21h17.07M841.47 805.18h17.07M841.47 811.79h17.07M841.47 817.6h17.07M841.47 823.29h17.07M841.47 826.71h17.07M841.47 830.21h17.07M841.47 835.35h17.07M841.47 836.64h17.07M832.93 743.56h34.13M832.93 747.54h34.13M832.93 754.17h34.13M832.93 760.81h34.13M832.93 764.78h34.13M832.93 767.44h34.13" stroke="#66A61E"/>
<path d="M849.91 508.5h0.19M849.82 593.8h0.35M849.84 630.8h0.31M847.25 710.3h5.5M841.24 739h17.53M840.82 740.3h18.36M838.95 766.8h22.1M842.25 772.5h15.5M849.62 655.26h0.75M849.51 677.36h0.97M849.44 681.5h1.11M849.39 682.88h1.22M849.34 684.26h1.32M848.6 690.34h2.8M848.27 691.62h3.46M848.13 703.75h3.73M846.31 716.61h7.38M845.61 720.81h8.79M844.33 726.41h11.35M844 727.81h11.99M841.95 736.2h16.1M841.24 739h17.53M837.46 747.4h25.09M836.68 748.8h26.63M836.01 750.2h27.97M835.52 751.6h28.96M835.23 758.6h29.55M835.59 760h28.82M839.97 768.4h20.05M841.59 771.19h16.82M843.64 775.39h12.73M844.78 778.19h10.45M845.29 779.59h9.41M846.54 785.19h6.92M846.82 786.59h6.36M847.1 787.99h5.8M848 794.99h4M848.56 801.21h2.88M848.76 805.18h2.48M849.04 811.79h1.91M849.19 817.6h1.62M849.33 823.29h1.34M849.42 826.71h1.16M849.5 830.21h1M849.57 835.35h0.85M849.59 836.64h0.82" stroke="#fff" class="wi"/>
<path d="M841.47 561.7h17.07M841.47 597.2h17.07M841.47 620.3h17.07M841.47 843h17.07M841.47 849.6h17.07M841.47 874.7h17.07M832.93 727h34.13M832.93 776.2h34.13M832.93 783.2h34.13M832.93 806.3h34.13M841.47 644.49h17.07M841.47 648.42h17.07M841.47 649.74h17.07M841.47 657.45h17.07M841.47 658.54h17.07M841.47 659.64h17.07M841.47 678.74h17.07M841.47 680.12h17.07M841.47 695.45h17.07M841.47 698.01h17.07M841.47 708.21h17.07M841.47 709.61h17.07M841.47 711.01h17.07M841.47 715.21h17.07M841.47 719.41h17.07M841.47 722.21h17.07M841.47 723.61h17.07M841.47 732.01h17.07M841.47 733.41h17.07M841.47 734.81h17.07M841.47 737.6h17.07M841.47 772.59h17.07M841.47 773.99h17.07M841.47 776.79h17.07M841.47 789.39h17.07M841.47 792.19h17.07M841.47 793.59h17.07M841.47 796.39h17.07M841.47 797.79h17.07M841.47 802.53h17.07M841.47 803.86h17.07M841.47 806.5h17.07M841.47 807.82h17.07M841.47 816.4h17.07M841.47 832.78h17.07M832.93 746.22h34.13M832.93 748.87h34.13M832.93 750.19h34.13M832.93 752.85h34.13M832.93 758.15h34.13M832.93 762.13h34.13M832.93 763.46h34.13M832.93 766.11h34.13" stroke="#66A61E"/>
<path d="M849.91 561.7h0.19M849.82 597.2h0.36M849.85 620.3h0.3M849.65 843h0.69M849.61 849.6h0.77M849.91 874.7h0.19M844.19 727h11.62M843.98 776.2h12.05M846.14 783.2h7.72M848.82 806.3h2.37M849.67 644.49h0.66M849.66 648.42h0.69M849.65 649.74h0.7M849.61 657.45h0.77M849.61 658.54h0.79M849.6 659.64h0.8M849.51 678.74h0.99M849.49 680.12h1.03M847.57 695.45h4.85M847.95 698.01h4.1M847.54 708.21h4.92M847.35 709.61h5.3M847.15 711.01h5.71M846.52 715.21h6.96M845.88 719.41h8.25M845.29 722.21h9.42M844.97 723.61h10.06M843 732.01h14M842.65 733.41h14.7M842.3 734.81h15.4M841.6 737.6h16.8M840.21 741.8h19.59M834.76 754.4h30.48M834.94 757.2h30.12M836.15 761.4h27.7M839.08 767h21.84M840.83 769.8h18.34M842.3 772.59h15.41M842.99 773.99h14.02M844.22 776.79h11.57M847.36 789.39h5.27M847.72 792.19h4.56M847.86 793.59h4.28M848.14 796.39h3.72M848.28 797.79h3.44M848.63 802.53h2.75M848.69 803.86h2.61M848.83 806.5h2.35M848.89 807.82h2.22M849.16 816.4h1.68M849.54 832.78h0.92" stroke="#fff" class="wi"/>
<path d="M841.47 611.5h17.07M841.47 667.8h17.07M841.47 841.4h17.07M841.47 852.3h17.07M832.93 694.8h34.13M824.4 744.5h51.2M824.4 759.7h51.2M841.47 641.86h17.07M841.47 643.17h17.07M841.47 645.8h17.07M841.47 647.11h17.07M841.47 656.36h17.07M841.47 685.64h17.07M841.47 689.06h17.07M841.47 692.9h17.07M841.47 694.17h17.07M841.47 696.73h17.07M841.47 699.29h17.07M841.47 702.71h17.07M841.47 704.79h17.07M841.47 712.41h17.07M841.47 713.81h17.07M841.47 718.01h17.07M841.47 725.01h17.07M841.47 729.21h17.07M841.47 730.61h17.07M841.47 780.99h17.07M841.47 782.39h17.07M841.47 783.79h17.07M841.47 790.79h17.07M841.47 809.14h17.07M841.47 810.47h17.07M841.47 815.21h17.07M841.47 818.79h17.07M841.47 822.21h17.07M841.47 826.79h17.07M841.47 831.5h17.07M841.47 834.07h17.07M832.93 744.89h34.13M832.93 751.52h34.13M832.93 755.5h34.13M832.93 756.83h34.13M832.93 759.48h34.13" stroke="#66A61E"/>
<path d="M849.86 611.5h0.27M849.56 667.8h0.88M849.64 841.4h0.71M849.61 852.3h0.79M847.58 694.8h4.84M839 744.5h22.01M835.51 759.7h28.99M849.67 641.86h0.66M849.67 643.17h0.66M849.67 645.8h0.67M849.66 647.11h0.68M849.62 656.36h0.76M849.29 685.64h1.42M848.91 689.06h2.17M847.94 692.9h4.12M847.65 694.17h4.7M847.72 696.73h4.57M848.19 699.29h3.63M848.27 702.71h3.46M848 704.79h4.01M846.94 712.41h6.12M846.73 713.81h6.54M846.1 718.01h7.8M844.65 725.01h10.7M843.68 729.21h12.64M843.35 730.61h13.31M840.78 740.4h18.44M839.59 743.2h20.82M838.95 744.6h22.1M838.23 746h23.54M835.1 753h29.8M834.7 755.8h30.59M836.79 762.8h26.43M837.45 764.2h25.11M838.21 765.6h23.58M845.69 780.99h8.63M845.98 782.39h8.04M846.26 783.79h7.48M847.57 790.79h4.86M848.96 809.14h2.09M849.01 810.47h1.99M849.13 815.21h1.74M849.22 818.79h1.56M849.31 822.21h1.39M849.42 826.79h1.16M849.52 831.5h0.96M849.56 834.07h0.89" stroke="#fff" class="wi"/></g>
<g><path d="M956 644H957V650H956ZM956 650H958V653H956ZM955 653H958V665H955ZM956 665H958V671H956ZM956 671H957V681H956ZM956 718H957V723H956ZM956 723H958V724H956ZM955 724H958V726H955ZM955 726H959V727H955ZM954 727H959V729H954ZM954 729H960V730H954ZM953 730H960V739H953ZM954 739H960V741H954ZM954 741H959V749H954ZM954 749H960V751H954ZM953 751H960V761H953ZM954 761H960V763H954ZM954 763H959V765H954ZM955 765H959V766H955ZM955 766H958V769H955ZM956 769H958V771H956ZM956 771H957V777H956ZM956 796H957V802H956ZM956 802H958V805H956ZM955 805H958V821H955ZM956 821H958V829H956ZM955 829H958V838H955ZM955 838H959V841H955ZM954 841H959V844H954ZM954 844H960V845H954ZM953 845H960V847H953ZM953 847H961V848H953ZM952 848H961V852H952ZM952 852H962V853H952ZM951 853H962V854H951ZM951 854H963V855H951ZM950 855H963V856H950ZM949 856H964V857H949ZM949 857H965V858H949ZM948 858H965V860H948ZM948 860H966V861H948ZM947 861H966V863H947ZM947 863H967V864H947ZM946 864H967V865H946ZM946 865H968V866H946ZM945 866H968V868H945ZM945 868H969V869H945ZM944 869H969V889H944ZM945 889H969V891H945ZM945 891H968V892H945ZM946 892H967V893H946ZM947 893H966V894H947ZM948 894H966V895H948ZM948 895H965V896H948ZM949 896H964V898H949ZM950 898H963V899H950ZM951 899H963V900H951ZM952 900H962V901H952ZM952 901H961V902H952ZM953 902H960V904H953ZM954 904H960V905H954ZM954 905H959V906H954ZM955 906H959V907H955ZM955 907H958V911H955ZM956 911H958V913H956ZM956 913H957V917H956ZM956 1012H957V1033H956Z" class="bn" style="fill:#E6AB02"/>
<path d="M948.13 656.7h17.07M948.13 731h17.07M948.13 732.8h17.07M948.13 734.5h17.07M948.13 758.2h17.07M948.13 811h17.07M948.13 830.7h17.07M948.13 848.3h17.07M948.13 854.1h17.07M948.13 857.93h17.07M948.13 860.67h17.07M948.13 862.04h17.07M948.13 869.77h17.07M948.13 872.48h17.07M948.13 875.2h17.07M948.13 880.62h17.07M948.13 883.33h17.07M948.13 884.68h17.07M948.13 888.75h17.07M948.13 894.17h17.07M948.13 898.24h17.07" stroke="#E6AB02"/>
<path d="M955.12 656.7h3.09M953.33 731h6.67M953.01 732.8h7.3M952.91 734.5h7.5M953.05 758.2h7.23M955.01 811h3.31M955.43 830.7h2.46M952.34 848.3h8.66M950.92 854.1h11.5M948.61 857.93h16.12M948.13 860.67h17.07M948.13 862.04h17.07M948.13 869.77h17.07M948.13 872.48h17.07M948.13 875.2h17.07M948.13 880.62h17.07M948.13 883.33h17.07M948.13 884.68h17.07M948.13 888.75h17.07M948.13 894.17h17.07M949.73 898.24h13.87" stroke="#fff" class="wi"/>
<path d="M948.13 657.1h17.07M948.13 670.3h17.07M948.13 738.3h17.07M948.13 747.8h17.07M948.13 764.5h17.07M948.13 806.9h17.07M948.13 819.1h17.07M948.13 839.3h17.07M948.13 844.3h17.07M948.13 903.5h17.07M948.13 905.5h17.07M948.13 856.56h17.07M948.13 867.06h17.07M948.13 871.13h17.07M948.13 876.55h17.07M948.13 877.91h17.07M948.13 887.39h17.07" stroke="#E6AB02"/>
<path d="M955.11 657.1h3.11M955.78 670.3h1.76M953.31 738.3h6.72M953.97 747.8h5.4M954.35 764.5h4.63M955.23 806.9h2.88M955.38 819.1h2.58M954.73 839.3h3.88M953.61 844.3h6.12M953.28 903.5h6.78M954.13 905.5h5.08M949.26 856.56h14.82M948.13 867.06h17.07M948.13 871.13h17.07M948.13 876.55h17.07M948.13 877.91h17.07M948.13 887.39h17.07" stroke="#fff" class="wi"/>
<path d="M948.13 754h17.07M948.13 756.8h17.07M948.13 1022.7h17.07M939.6 875.2h34.13M939.6 890.5h34.13M948.13 859.3h17.07M948.13 868.42h17.07M948.13 873.84h17.07M948.13 879.26h17.07M948.13 881.97h17.07M948.13 886.04h17.07M948.13 890.1h17.07M948.13 891.46h17.07M948.13 892.82h17.07M948.13 895.53h17.07M948.13 896.88h17.07" stroke="#E6AB02"/>
<path d="M953.08 754h7.17M952.97 756.8h7.4M955.93 1022.7h1.48M944.47 875.2h24.4M944.78 890.5h23.77M948.2 859.3h16.94M948.13 868.42h17.07M948.13 873.84h17.07M948.13 879.26h17.07M948.13 881.97h17.07M948.13 886.04h17.07M948.13 890.1h17.07M948.13 891.46h17.07M948.13 892.82h17.07M948.31 895.53h16.71M949.07 896.88h15.2" stroke="#fff" class="wi"/></g>
<g><path d="M1063 623H1064V659H1063ZM1062 659H1064V669H1062ZM1062 669H1065V712H1062ZM1061 712H1065V715H1061ZM1061 715H1066V718H1061ZM1060 718H1066V720H1060ZM1060 720H1067V723H1060ZM1059 723H1067V725H1059ZM1059 725H1068V726H1059ZM1058 726H1068V727H1058ZM1058 727H1069V729H1058ZM1057 729H1070V731H1057ZM1056 731H1071V733H1056ZM1055 733H1072V734H1055ZM1054 734H1072V735H1054ZM1054 735H1073V736H1054ZM1053 736H1074V737H1053ZM1052 737H1075V738H1052ZM1050 738H1076V739H1050ZM1049 739H1078V740H1049ZM1047 740H1079V741H1047ZM1046 741H1080V742H1046ZM1046 742H1081V743H1046ZM1045 743H1082V744H1045ZM1044 744H1083V745H1044ZM1043 745H1083V746H1043ZM1043 746H1084V747H1043ZM1042 747H1084V748H1042ZM1042 748H1085V749H1042ZM1041 749H1085V750H1041ZM1041 750H1086V752H1041ZM1040 752H1086V753H1040ZM1040 753H1087V754H1040ZM1040 754H1086V755H1040ZM1041 755H1086V756H1041ZM1042 756H1085V757H1042ZM1043 757H1084V758H1043ZM1045 758H1082V759H1045ZM1047 759H1080V760H1047ZM1049 760H1078V761H1049ZM1051 761H1076V762H1051ZM1052 762H1074V763H1052ZM1053 763H1073V764H1053ZM1054 764H1072V765H1054ZM1055 765H1071V766H1055ZM1056 766H1071V767H1056ZM1057 767H1070V768H1057ZM1058 768H1069V769H1058ZM1059 769H1068V770H1059ZM1060 770H1067V771H1060ZM1061 771H1066V772H1061ZM1061 772H1065V773H1061ZM1062 773H1065V774H1062ZM1062 774H1064V775H1062ZM1063 775H1064V792H1063ZM1063 817H1064V835H1063ZM1063 874H1064V891H1063Z" class="bn" style="fill:#A6761D"/>
<path d="M1054.8 781.5h17.07M1054.8 827.4h17.07M1037.73 713h51.2M1046.27 767h34.13M1054.8 654.36h17.07M1054.8 654.89h17.07M1054.8 660.81h17.07M1054.8 663.3h17.07M1054.8 668.29h17.07M1054.8 671.71h17.07M1054.8 673.05h17.07M1054.8 674.39h17.07M1054.8 678.4h17.07M1054.8 679.74h17.07M1054.8 682.41h17.07M1054.8 695.79h17.07M1054.8 709.5h17.07M1054.8 712.29h17.07M1054.8 715.08h17.07M1054.8 723.46h17.07M1054.8 726.26h17.07M1054.8 731.84h17.07M1054.8 766.76h17.07M1054.8 770.95h17.07M1054.8 773.74h17.07M1054.8 775.14h17.07M1046.27 734.94h34.13M1037.73 751.74h51.2M1037.73 752.91h51.2M1054.8 868.99h17.07M1054.8 870.37h17.07M1054.8 871.74h17.07" stroke="#A6761D"/>
<path d="M1062.91 781.5h0.85M1062.9 827.4h0.87M1061.46 713h3.74M1056.62 767h13.42M1062.6 654.36h1.48M1062.59 654.89h1.49M1062.46 660.81h1.75M1062.38 663.3h1.91M1062.19 668.29h2.28M1062.06 671.71h2.55M1062.01 673.05h2.65M1061.95 674.39h2.76M1061.8 678.4h3.07M1061.75 679.74h3.16M1061.72 682.41h3.23M1061.63 695.79h3.41M1061.55 709.5h3.56M1061.51 712.29h3.64M1061.12 715.08h4.43M1059.44 723.46h7.79M1058.55 726.26h9.57M1055.91 731.84h14.84M1054.4 734.64h17.87M1049.78 738.83h27.1M1047.75 740.22h31.16M1043.26 745.81h40.16M1041.84 748.6h43M1041.18 750h44.31M1053.85 763.96h18.96M1056.38 766.76h13.9M1060.19 770.95h6.29M1061.98 773.74h2.7M1062.65 775.14h1.37M1063.26 868.99h0.15M1063.24 870.37h0.19M1063.21 871.74h0.24" stroke="#fff" class="wi"/>
<path d="M1054.8 627.5h17.07M1054.8 635.5h17.07M1054.8 784h17.07M1054.8 786.5h17.07M1054.8 823.3h17.07M1054.8 825h17.07M1054.8 829.2h17.07M1054.8 890.2h17.07M1029.2 742.5h68.27M1037.73 746.8h51.2M1054.8 658.31h17.07M1054.8 662.05h17.07M1054.8 664.55h17.07M1054.8 677.06h17.07M1054.8 685.09h17.07M1054.8 686.42h17.07M1054.8 693.11h17.07M1054.8 694.45h17.07M1054.8 699.15h17.07M1054.8 705.31h17.07M1054.8 706.7h17.07M1054.8 708.1h17.07M1054.8 710.89h17.07M1054.8 716.48h17.07M1054.8 719.27h17.07M1054.8 724.86h17.07M1054.8 769.55h17.07M1054.8 772.34h17.07M1046.27 734.06h34.13M1037.73 750.56h51.2M1054.8 860.76h17.07M1054.8 867.62h17.07" stroke="#A6761D"/>
<path d="M1063.13 627.5h0.41M1063.03 635.5h0.6M1062.94 784h0.79M1063 786.5h0.67M1062.93 823.3h0.81M1062.9 825h0.87M1062.93 829.2h0.8M1063.16 890.2h0.35M1045.63 742.5h35.4M1042.73 746.8h41.2M1062.53 658.31h1.62M1062.42 662.05h1.83M1062.33 664.55h2M1061.85 677.06h2.97M1061.7 685.09h3.27M1061.69 686.42h3.29M1061.65 693.11h3.37M1061.64 694.45h3.39M1061.61 699.15h3.45M1061.58 705.31h3.51M1061.57 706.7h3.53M1061.56 708.1h3.55M1061.55 710.89h3.58M1060.84 716.48h4.99M1060.28 719.27h6.11M1059.08 724.86h8.5M1053.27 736.03h20.13M1051.76 737.43h23.14M1046.34 741.62h33.99M1040.61 751.39h45.44M1040.14 752.79h46.38M1040.19 754.19h46.29M1042.48 756.98h41.71M1044.49 758.38h37.69M1059.09 769.55h8.5M1061.11 772.34h4.44M1063.26 860.76h0.15M1063.27 867.62h0.12" stroke="#fff" class="wi"/>
<path d="M1054.8 615.5h17.07M1054.8 639.5h17.07M1054.8 646.8h17.07M1054.8 649h17.07M1054.8 854.7h17.07M1054.8 877h17.07M1054.8 881.7h17.07M1054.8 917.8h17.07M1046.27 725.5h34.13M1054.8 659.56h17.07M1054.8 665.79h17.07M1054.8 667.04h17.07M1054.8 675.73h17.07M1054.8 681.08h17.07M1054.8 683.75h17.07M1054.8 687.76h17.07M1054.8 689.1h17.07M1054.8 690.44h17.07M1054.8 691.77h17.07M1054.8 702.51h17.07M1054.8 703.91h17.07M1054.8 713.69h17.07M1054.8 717.88h17.07M1054.8 720.67h17.07M1054.8 722.07h17.07M1054.8 727.65h17.07M1054.8 729.05h17.07M1054.8 730.45h17.07M1054.8 733.24h17.07M1054.8 765.36h17.07M1054.8 768.15h17.07M1037.73 754.09h51.2M1037.73 755.26h51.2M1037.73 756.44h51.2M1054.8 862.13h17.07M1054.8 863.51h17.07M1054.8 864.88h17.07M1054.8 866.25h17.07" stroke="#A6761D"/>
<path d="M1063.2 615.5h0.27M1062.99 639.5h0.68M1062.76 646.8h1.14M1062.66 649h1.35M1063.21 854.7h0.24M1063.11 877h0.44M1063.08 881.7h0.51M1063.21 917.8h0.24M1058.85 725.5h8.96M1062.49 659.56h1.68M1062.29 665.79h2.09M1062.24 667.04h2.19M1061.9 675.73h2.86M1061.73 681.08h3.21M1061.71 683.75h3.25M1061.68 687.76h3.3M1061.67 689.1h3.32M1061.66 690.44h3.34M1061.66 691.77h3.36M1061.59 702.51h3.48M1061.58 703.91h3.5M1061.37 713.69h3.92M1060.56 717.88h5.55M1060 720.67h6.67M1059.72 722.07h7.23M1057.91 727.65h10.84M1057.27 729.05h12.13M1056.6 730.45h13.46M1055.21 733.24h16.24M1045.22 743.01h36.22M1044.15 744.41h38.36M1042.53 747.2h41.6M1041.1 755.58h44.46M1047.33 759.77h32.02M1050.34 761.17h25.99M1052.52 762.57h21.63M1055.04 765.36h16.58M1057.77 768.15h11.13M1063.27 862.13h0.13M1063.28 863.51h0.11M1063.28 864.88h0.1M1063.28 866.25h0.1" stroke="#fff" class="wi"/></g>
<g><path d="M1169 719H1171V733H1169ZM1168 733H1172V737H1168ZM1167 737H1173V739H1167ZM1166 739H1174V740H1166ZM1165 740H1175V741H1165ZM1164 741H1176V743H1164ZM1163 743H1177V744H1163ZM1162 744H1178V745H1162ZM1161 745H1179V746H1161ZM1159 746H1181V747H1159ZM1157 747H1183V748H1157ZM1154 748H1186V749H1154ZM1151 749H1189V750H1151ZM1148 750H1192V751H1148ZM1146 751H1194V752H1146ZM1143 752H1197V753H1143ZM1141 753H1199V754H1141ZM1139 754H1201V755H1139ZM1137 755H1203V756H1137ZM1136 756H1204V757H1136ZM1134 757H1206V758H1134ZM1132 758H1208V759H1132ZM1131 759H1209V761H1131ZM1133 761H1207V762H1133ZM1137 762H1203V763H1137ZM1141 763H1199V764H1141ZM1144 764H1196V765H1144ZM1147 765H1193V766H1147ZM1150 766H1190V767H1150ZM1153 767H1187V768H1153ZM1156 768H1184V769H1156ZM1159 769H1181V770H1159ZM1161 770H1179V771H1161ZM1162 771H1178V773H1162ZM1163 773H1177V774H1163ZM1164 774H1176V776H1164ZM1165 776H1175V777H1165ZM1166 777H1174V778H1166ZM1167 778H1173V780H1167ZM1168 780H1172V782H1168ZM1169 782H1171V785H1169Z" class="bn" style="fill:#666666"/>
<path d="M1161.47 733h17.07M1161.47 806.5h17.07M1161.47 738.86h17.07M1161.47 745.35h17.07M1161.47 749.24h17.07M1161.47 765.56h17.07M1161.47 768.03h17.07M1161.47 769.27h17.07M1161.47 770.5h17.07" stroke="#666666"/>
<path d="M1168.46 733h3.07M1169.74 806.5h0.51M1166.62 738.86h6.77M1161.47 745.35h17.07M1161.47 749.24h17.07M1131.12 759.26h77.75M1130.91 760.32h78.17M1161.47 765.56h17.07M1161.47 768.03h17.07M1161.47 769.27h17.07M1161.47 770.5h17.07" stroke="#fff" class="wi"/>
<path d="M1161.47 725h17.07M1161.47 779.3h17.07M1161.47 780.7h17.07M1161.47 850.5h17.07M1161.47 742.76h17.07M1161.47 744.05h17.07M1161.47 746.65h17.07M1161.47 747.95h17.07M1161.47 750.54h17.07M1161.47 751.84h17.07M1161.47 753.14h17.07M1144.4 756.2h51.2M1161.47 772.97h17.07M1161.47 774.2h17.07" stroke="#666666"/>
<path d="M1168.98 725h2.04M1167.3 779.3h5.41M1168.14 780.7h3.73M1169.64 850.5h0.72M1163.34 742.76h13.31M1162.12 744.05h15.76M1161.47 746.65h17.07M1161.47 747.95h17.07M1161.47 750.54h17.07M1161.47 751.84h17.07M1161.47 753.14h17.07M1144.4 756.2h51.2M1136.75 762.44h66.51M1162.86 772.97h14.29M1163.68 774.2h12.65" stroke="#fff" class="wi"/>
<path d="M1161.47 653.5h17.07M1161.47 721.3h17.07M1161.47 842.2h17.07M1161.47 889.7h17.07M1161.47 1156.4h17.07M1161.47 740.16h17.07M1161.47 741.46h17.07M1161.47 766.8h17.07M1161.47 771.73h17.07M1161.47 775.44h17.07" stroke="#666666"/>
<path d="M1169.74 653.5h0.51M1169.09 721.3h1.82M1169.64 842.2h0.72M1169.74 889.7h0.51M1169.74 1156.4h0.51M1165.62 740.16h8.76M1164.53 741.46h10.94M1132.96 761.38h74.08M1161.47 766.8h17.07M1161.84 771.73h16.33M1164.4 775.44h11.19" stroke="#fff" class="wi"/></g>
<g><path d="M1276 615H1277V639H1276ZM1276 649H1277V666H1276ZM1276 666H1278V673H1276ZM1275 673H1278V695H1275ZM1275 695H1279V697H1275ZM1274 697H1279V699H1274ZM1274 699H1280V701H1274ZM1273 701H1280V707H1273ZM1273 707H1281V710H1273ZM1272 710H1281V715H1272ZM1272 715H1282V717H1272ZM1271 717H1282V721H1271ZM1271 721H1283V722H1271ZM1270 722H1283V724H1270ZM1270 724H1284V726H1270ZM1269 726H1284V728H1269ZM1269 728H1285V729H1269ZM1268 729H1285V731H1268ZM1268 731H1286V732H1268ZM1267 732H1286V734H1267ZM1267 734H1287V736H1267ZM1266 736H1287V738H1266ZM1266 738H1288V739H1266ZM1265 739H1288V741H1265ZM1265 741H1289V742H1265ZM1264 742H1289V745H1264ZM1264 745H1290V746H1264ZM1263 746H1290V751H1263ZM1263 751H1291V752H1263ZM1263 752H1290V755H1263ZM1264 755H1290V756H1264ZM1264 756H1289V758H1264ZM1265 758H1289V759H1265ZM1265 759H1288V761H1265ZM1266 761H1288V762H1266ZM1266 762H1287V763H1266ZM1267 763H1287V764H1267ZM1267 764H1286V766H1267ZM1268 766H1286V767H1268ZM1268 767H1285V768H1268ZM1269 768H1285V769H1269ZM1269 769H1284V771H1269ZM1270 771H1284V772H1270ZM1270 772H1283V774H1270ZM1271 774H1283V775H1271ZM1271 775H1282V777H1271ZM1272 777H1282V778H1272ZM1272 778H1281V780H1272ZM1273 780H1281V781H1273ZM1273 781H1280V784H1273ZM1274 784H1280V786H1274ZM1274 786H1279V789H1274ZM1275 789H1279V791H1275ZM1275 791H1278V796H1275ZM1276 796H1278V798H1276ZM1276 798H1277V844H1276Z" class="bn" style="fill:#1B9E77"/>
<path d="M1268.13 589.2h17.07M1268.13 629h17.07M1268.13 850h17.07M1259.6 731.2h34.13M1251.07 737.5h51.2M1268.13 661.26h17.07M1268.13 663.6h17.07M1268.13 667.12h17.07M1268.13 672.95h17.07M1268.13 677.88h17.07M1268.13 680.35h17.07M1268.13 696.13h17.07M1268.13 700.3h17.07M1268.13 703.08h17.07M1268.13 708.64h17.07M1268.13 718.36h17.07M1268.13 723.92h17.07M1268.13 725.31h17.07M1268.13 768.39h17.07M1268.13 769.78h17.07M1268.13 771.17h17.07M1268.13 775.34h17.07M1268.13 782.28h17.07M1268.13 786.45h17.07M1268.13 787.84h17.07M1268.13 790.62h17.07M1268.13 792.01h17.07M1268.13 793.4h17.07M1268.13 807.94h17.07M1268.13 813.46h17.07M1268.13 814.84h17.07M1259.6 722.56h34.13M1259.6 741.12h34.13M1259.6 742.47h34.13M1259.6 753.28h34.13M1259.6 761.38h34.13M1259.6 765.44h34.13" stroke="#1B9E77"/>
<path d="M1276.57 589.2h0.19M1276.44 629h0.46M1276.55 850h0.23M1267.81 731.2h17.72M1265.92 737.5h21.5M1276.05 661.26h1.23M1275.94 663.6h1.45M1275.78 667.12h1.77M1275.5 672.95h2.33M1275.27 677.88h2.8M1275.17 680.35h2.99M1274.66 696.13h4.01M1273.67 700.3h6M1273.3 703.08h6.74M1272.63 708.64h8.07M1271.38 718.36h10.57M1269.99 723.92h13.35M1269.57 725.31h14.19M1266.66 735.04h20.02M1265.41 739.21h22.52M1264.99 740.6h23.36M1263.78 744.76h25.77M1263.51 746.15h26.31M1263.45 754.49h26.44M1263.88 755.88h25.57M1265.22 760.05h22.9M1266.3 762.83h20.74M1267.97 767h17.4M1268.52 768.39h16.29M1269.06 769.78h15.21M1269.57 771.17h14.19M1271.03 775.34h11.27M1273.12 782.28h7.09M1273.96 786.45h5.42M1274.24 787.84h4.86M1274.75 790.62h3.83M1274.97 792.01h3.4M1275.18 793.4h2.98M1276.17 807.94h1M1276.17 813.46h1M1276.17 814.84h1" stroke="#fff" class="wi"/>
<path d="M1268.13 618.3h17.07M1268.13 626.8h17.07M1268.13 648h17.07M1259.6 712.5h34.13M1259.6 780.3h34.13M1268.13 664.78h17.07M1268.13 665.95h17.07M1268.13 668.29h17.07M1268.13 671.71h17.07M1268.13 675.42h17.07M1268.13 676.65h17.07M1268.13 681.59h17.07M1268.13 685.01h17.07M1268.13 687.79h17.07M1268.13 690.57h17.07M1268.13 694.74h17.07M1268.13 697.52h17.07M1268.13 698.91h17.07M1268.13 701.69h17.07M1268.13 705.86h17.07M1268.13 707.25h17.07M1268.13 710.02h17.07M1268.13 711.41h17.07M1268.13 712.8h17.07M1268.13 714.19h17.07M1268.13 716.97h17.07M1268.13 719.75h17.07M1268.13 721.14h17.07M1268.13 722.53h17.07M1268.13 728.09h17.07M1268.13 776.72h17.07M1268.13 778.11h17.07M1268.13 779.5h17.07M1268.13 797.57h17.07M1268.13 800.35h17.07M1268.13 801.74h17.07M1268.13 809.32h17.07M1268.13 812.08h17.07M1268.13 820.36h17.07M1268.13 821.74h17.07M1259.6 707.94h34.13M1259.6 737.06h34.13M1259.6 743.82h34.13M1259.6 746.52h34.13" stroke="#1B9E77"/>
<path d="M1276.48 618.3h0.37M1276.43 626.8h0.47M1276.51 648h0.32M1272.14 712.5h9.05M1272.69 780.3h7.96M1275.89 664.78h1.55M1275.83 665.95h1.66M1275.72 668.29h1.89M1275.56 671.71h2.21M1275.39 675.42h2.56M1275.33 676.65h2.68M1275.15 681.59h3.04M1275.1 685.01h3.13M1275.06 687.79h3.21M1275.03 690.57h3.28M1274.9 694.74h3.53M1274.31 697.52h4.71M1273.96 698.91h5.42M1273.46 701.69h6.4M1272.96 705.86h7.41M1272.8 707.25h7.74M1272.46 710.02h8.41M1272.28 711.41h8.77M1272.1 712.8h9.13M1271.92 714.19h9.49M1271.56 716.97h10.21M1271.15 719.75h11.03M1270.82 721.14h11.7M1270.41 722.53h12.52M1268.74 728.09h15.85M1267.49 732.26h18.35M1267.07 733.65h19.19M1264.57 741.99h24.19M1263.3 747.54h26.73M1263.1 748.93h27.12M1262.91 750.32h27.52M1262.83 751.71h27.68M1264.75 758.66h23.83M1266.85 764.22h19.62M1271.52 776.72h10.29M1272.01 778.11h9.32M1272.46 779.5h8.4M1275.8 797.57h1.73M1276.17 800.35h1M1276.27 801.74h0.79M1276.17 809.32h1M1276.17 812.08h1M1276.16 820.36h1.02M1276.15 821.74h1.03" stroke="#fff" class="wi"/>
<path d="M1268.13 609.2h17.07M1268.13 639.5h17.07M1268.13 908.5h17.07M1268.13 836.3h17.07M1251.07 748.5h51.2M1259.6 792h34.13M1268.13 662.43h17.07M1268.13 674.18h17.07M1268.13 679.12h17.07M1268.13 686.4h17.07M1268.13 689.18h17.07M1268.13 691.96h17.07M1268.13 693.35h17.07M1268.13 704.47h17.07M1268.13 715.58h17.07M1268.13 726.7h17.07M1268.13 729.48h17.07M1268.13 772.56h17.07M1268.13 773.95h17.07M1268.13 780.89h17.07M1268.13 783.67h17.07M1268.13 785.06h17.07M1268.13 789.23h17.07M1268.13 794.79h17.07M1268.13 796.18h17.07M1268.13 798.96h17.07M1268.13 806.56h17.07M1268.13 810.7h17.07M1268.13 816.22h17.07M1268.13 817.6h17.07M1268.13 818.98h17.07M1259.6 707.06h34.13M1259.6 723.94h34.13M1259.6 738.41h34.13M1259.6 739.76h34.13M1259.6 745.17h34.13M1259.6 747.87h34.13M1259.6 749.22h34.13M1259.6 750.57h34.13M1259.6 751.93h34.13M1259.6 754.63h34.13M1259.6 755.98h34.13M1259.6 757.33h34.13M1259.6 758.68h34.13M1259.6 760.03h34.13M1259.6 762.74h34.13M1259.6 764.09h34.13" stroke="#1B9E77"/>
<path d="M1276.54 609.2h0.26M1276.5 639.5h0.33M1276.57 908.5h0.19M1276.42 836.3h0.49M1263.17 748.5h27M1274.97 792h3.4M1276 662.43h1.34M1275.44 674.18h2.45M1275.21 679.12h2.91M1275.08 686.4h3.17M1275.04 689.18h3.24M1275.01 691.96h3.32M1274.99 693.35h3.36M1273.13 704.47h7.07M1271.74 715.58h9.85M1269.16 726.7h15.02M1268.32 729.48h16.69M1267.91 730.87h17.52M1266.24 736.43h20.86M1265.82 737.82h21.69M1264.15 743.38h25.02M1263.04 753.1h27.26M1264.31 757.27h24.71M1265.74 761.44h21.85M1267.41 765.61h18.51M1270.06 772.56h13.21M1270.55 773.95h12.24M1272.83 780.89h7.67M1273.4 783.67h6.53M1273.68 785.06h5.97M1274.51 789.23h4.32M1275.39 794.79h2.56M1275.59 796.18h2.15M1276.01 798.96h1.32M1276.17 806.56h1M1276.17 810.7h1M1276.17 816.22h1M1276.16 817.6h1M1276.16 818.98h1.01" stroke="#fff" class="wi"/></g>
<g><path d="M1383 593H1384V673H1383ZM1382 673H1384V684H1382ZM1382 684H1385V691H1382ZM1381 691H1385V695H1381ZM1381 695H1386V699H1381ZM1380 699H1386V701H1380ZM1380 701H1387V706H1380ZM1379 706H1387V707H1379ZM1379 707H1388V711H1379ZM1378 711H1388V712H1378ZM1378 712H1389V716H1378ZM1377 716H1389V717H1377ZM1377 717H1390V721H1377ZM1376 721H1390V722H1376ZM1376 722H1391V725H1376ZM1375 725H1391V727H1375ZM1375 727H1392V730H1375ZM1374 730H1392V731H1374ZM1374 731H1393V734H1374ZM1373 734H1393V735H1373ZM1373 735H1394V739H1373ZM1372 739H1394V741H1372ZM1372 741H1395V752H1372ZM1372 752H1394V753H1372ZM1373 753H1394V755H1373ZM1373 755H1393V756H1373ZM1374 756H1393V758H1374ZM1374 758H1392V759H1374ZM1375 759H1392V761H1375ZM1376 761H1391V763H1376ZM1376 763H1390V764H1376ZM1377 764H1390V765H1377ZM1377 765H1389V766H1377ZM1378 766H1389V768H1378ZM1378 768H1388V769H1378ZM1379 769H1388V771H1379ZM1379 771H1387V772H1379ZM1380 772H1387V775H1380ZM1380 775H1386V777H1380ZM1381 777H1386V783H1381ZM1381 783H1385V787H1381ZM1382 787H1385V797H1382ZM1382 797H1384V803H1382ZM1383 803H1384V854H1383Z" class="bn" style="fill:#D95F02"/>
<path d="M1374.8 583.3h17.07M1374.8 629.7h17.07M1374.8 828.5h17.07M1374.8 833.5h17.07M1374.8 842.2h17.07M1374.8 892.3h17.07M1366.27 707.5h34.13M1366.27 721.5h34.13M1374.8 648.46h17.07M1374.8 649.55h17.07M1374.8 651.74h17.07M1374.8 662.55h17.07M1374.8 663.84h17.07M1374.8 669.86h17.07M1374.8 672.64h17.07M1374.8 679.74h17.07M1374.8 686.03h17.07M1374.8 690.19h17.07M1374.8 691.58h17.07M1374.8 695.73h17.07M1374.8 697.12h17.07M1374.8 701.27h17.07M1374.8 702.66h17.07M1374.8 706.82h17.07M1374.8 708.2h17.07M1374.8 709.59h17.07M1374.8 719.28h17.07M1374.8 720.67h17.07M1374.8 723.44h17.07M1374.8 727.6h17.07M1374.8 762.23h17.07M1374.8 763.62h17.07M1374.8 765.01h17.07M1374.8 771.93h17.07M1374.8 778.86h17.07M1374.8 785.79h17.07M1374.8 791.73h17.07M1366.27 734.03h34.13M1366.27 743.6h34.13M1366.27 744.97h34.13M1366.27 747.7h34.13M1366.27 750.44h34.13M1366.27 755.56h34.13M1366.27 758.25h34.13M1374.8 858.56h17.07M1374.8 859.92h17.07M1374.8 861.28h17.07M1374.8 869.5h17.07M1374.8 870.44h17.07" stroke="#D95F02"/>
<path d="M1383.22 583.3h0.23M1383.04 629.7h0.58M1382.93 828.5h0.81M1383.04 833.5h0.6M1382.97 842.2h0.73M1383.23 892.3h0.2M1379.13 707.5h8.4M1376.33 721.5h14M1382.92 648.46h0.82M1382.91 649.55h0.84M1382.89 651.74h0.89M1382.7 662.55h1.27M1382.67 663.84h1.32M1382.56 669.86h1.55M1382.51 672.64h1.65M1382.37 679.74h1.93M1381.94 686.03h2.78M1381.57 690.19h3.53M1381.44 691.58h3.78M1381.02 695.73h4.63M1380.82 697.12h5.04M1380.19 701.27h6.28M1379.98 702.66h6.7M1379.27 706.82h8.13M1378.99 708.2h8.68M1378.72 709.59h9.23M1376.78 719.28h13.11M1376.5 720.67h13.67M1375.95 723.44h14.78M1374.98 727.6h16.7M1373.6 733.14h19.47M1373 735.91h20.66M1372.17 741.45h22.34M1371.96 742.84h22.75M1371.66 745.61h23.35M1372.81 753.92h21.04M1373.25 755.31h20.17M1375.86 762.23h14.94M1376.5 763.62h13.68M1377.09 765.01h12.48M1379.41 771.93h7.84M1380.72 778.86h5.23M1381.41 785.79h3.84M1381.92 791.73h2.83M1383.28 858.56h0.11M1383.3 859.92h0.07M1383.31 861.28h0.05M1383.33 869.5h0M1383.33 870.44h0" stroke="#fff" class="wi"/>
<path d="M1374.8 538.8h17.07M1374.8 595.8h17.07M1374.8 619.5h17.07M1374.8 624.2h17.07M1374.8 843.7h17.07M1374.8 847.3h17.07M1374.8 848.8h17.07M1366.27 716.2h34.13M1357.73 744h51.2M1357.73 747.8h51.2M1366.27 785h34.13M1366.27 809.3h34.13M1374.8 647.36h17.07M1374.8 650.64h17.07M1374.8 657.36h17.07M1374.8 658.66h17.07M1374.8 659.95h17.07M1374.8 683.26h17.07M1374.8 687.42h17.07M1374.8 694.35h17.07M1374.8 698.5h17.07M1374.8 704.04h17.07M1374.8 705.43h17.07M1374.8 710.97h17.07M1374.8 712.36h17.07M1374.8 713.74h17.07M1374.8 716.51h17.07M1374.8 726.21h17.07M1374.8 767.78h17.07M1374.8 774.7h17.07M1374.8 777.47h17.07M1374.8 781.63h17.07M1374.8 789.21h17.07M1374.8 790.47h17.07M1374.8 792.99h17.07M1374.8 794.25h17.07M1374.8 796.77h17.07M1374.8 802.71h17.07M1374.8 808.94h17.07M1366.27 732.66h34.13M1366.27 735.4h34.13M1366.27 736.77h34.13M1366.27 739.5h34.13M1366.27 740.87h34.13M1366.27 746.34h34.13M1366.27 756.91h34.13M1366.27 759.59h34.13M1366.27 760.94h34.13M1374.8 823.44h17.07" stroke="#D95F02"/>
<path d="M1383.23 538.8h0.2M1383.15 595.8h0.37M1383.08 619.5h0.5M1383.05 624.2h0.56M1382.96 843.7h0.76M1382.98 847.3h0.72M1383.01 848.8h0.65M1377.39 716.2h11.88M1371.79 744h23.08M1371.63 747.8h23.4M1381.33 785h4M1382.79 809.3h1.08M1382.93 647.36h0.81M1382.9 650.64h0.86M1382.8 657.36h1.08M1382.77 658.66h1.12M1382.75 659.95h1.17M1382.19 683.26h2.28M1381.82 687.42h3.03M1381.18 694.35h4.3M1380.61 698.5h5.45M1379.77 704.04h7.12M1379.54 705.43h7.59M1378.44 710.97h9.79M1378.16 712.36h10.34M1377.89 713.74h10.9M1377.33 716.51h12.01M1375.33 726.21h16.01M1374.64 728.98h17.39M1374.29 730.37h18.08M1372.79 737.3h21.09M1371.63 746.99h23.4M1373.71 756.69h19.25M1374.18 758.08h18.31M1374.67 759.46h17.32M1378.08 767.78h10.51M1380.19 774.7h6.28M1380.58 777.47h5.51M1381 781.63h4.67M1381.75 789.21h3.17M1381.85 790.47h2.97M1381.98 792.99h2.7M1382.05 794.25h2.58M1382.17 796.77h2.32M1382.47 802.71h1.73M1382.78 808.94h1.11M1382.91 823.44h0.84" stroke="#fff" class="wi"/>
<path d="M1374.8 358.5h17.07M1374.8 498.4h17.07M1374.8 565.6h17.07M1374.8 600.8h17.07M1374.8 611.7h17.07M1374.8 634.7h17.07M1374.8 639.7h17.07M1374.8 814.3h17.07M1374.8 815.8h17.07M1366.27 693.5h34.13M1366.27 781.2h34.13M1374.8 661.25h17.07M1374.8 665.14h17.07M1374.8 671.25h17.07M1374.8 679.06h17.07M1374.8 684.65h17.07M1374.8 688.8h17.07M1374.8 692.96h17.07M1374.8 699.89h17.07M1374.8 715.13h17.07M1374.8 717.9h17.07M1374.8 722.06h17.07M1374.8 724.83h17.07M1374.8 760.85h17.07M1374.8 766.39h17.07M1374.8 769.16h17.07M1374.8 770.55h17.07M1374.8 773.32h17.07M1374.8 776.09h17.07M1374.8 780.25h17.07M1374.8 783.02h17.07M1374.8 784.4h17.07M1374.8 795.51h17.07M1374.8 798.03h17.07M1374.8 799.29h17.07M1374.8 803.96h17.07M1374.8 805.2h17.07M1374.8 806.45h17.07M1374.8 807.69h17.07M1366.27 728.56h34.13M1366.27 729.93h34.13M1366.27 731.3h34.13M1366.27 738.13h34.13M1366.27 742.23h34.13M1366.27 749.07h34.13M1374.8 821.06h17.07M1374.8 822.25h17.07M1374.8 862.64h17.07M1374.8 868.56h17.07" stroke="#D95F02"/>
<path d="M1383.23 358.5h0.2M1383.23 498.4h0.2M1383.23 565.6h0.2M1383.14 600.8h0.39M1383.15 611.7h0.36M1383.04 634.7h0.59M1382.98 639.7h0.7M1382.88 814.3h0.9M1382.9 815.8h0.87M1381.27 693.5h4.13M1380.95 781.2h4.76M1382.72 661.25h1.22M1382.65 665.14h1.37M1382.53 671.25h1.6M1382.38 679.06h1.9M1382.07 684.65h2.53M1381.69 688.8h3.28M1381.32 692.96h4.03M1380.4 699.89h5.87M1377.61 715.13h11.45M1377.05 717.9h12.56M1376.22 722.06h14.22M1375.65 724.83h15.36M1373.95 731.75h18.78M1373.27 734.53h20.12M1372.58 738.68h21.5M1372.37 740.07h21.92M1371.76 744.22h23.14M1371.63 748.38h23.4M1371.72 749.77h23.23M1371.99 751.15h22.68M1372.39 752.54h21.88M1375.23 760.85h16.2M1377.6 766.39h11.46M1378.55 769.16h9.58M1378.99 770.55h8.69M1379.83 773.32h7.01M1380.43 776.09h5.8M1380.86 780.25h4.95M1381.14 783.02h4.4M1381.27 784.4h4.12M1382.11 795.51h2.45M1382.24 798.03h2.2M1382.3 799.29h2.07M1382.53 803.96h1.6M1382.59 805.2h1.48M1382.66 806.45h1.36M1382.72 807.69h1.23M1382.92 821.06h0.83M1382.92 822.25h0.83M1383.32 862.64h0.03M1383.33 868.56h0" stroke="#fff" class="wi"/></g>
<g><path d="M1489 595H1491V650H1489ZM1488 650H1492V668H1488ZM1487 668H1493V674H1487ZM1486 674H1494V680H1486ZM1485 680H1495V690H1485ZM1484 690H1496V700H1484ZM1483 700H1497V710H1483ZM1482 710H1498V720H1482ZM1481 720H1499V731H1481ZM1482 731H1498V745H1482ZM1483 745H1497V752H1483ZM1484 752H1496V755H1484ZM1485 755H1495V758H1485ZM1486 758H1494V763H1486ZM1487 763H1493V768H1487ZM1488 768H1492V899H1488ZM1489 899H1491V946H1489Z" class="bn" style="fill:#7570B3"/>
<path d="M1481.47 550.5h17.07M1481.47 994.2h17.07M1481.47 1025h17.07M1481.47 1047.4h17.07M1472.93 639.7h34.13M1472.93 738.8h34.13M1472.93 755.5h34.13M1481.47 604.03h17.07M1481.47 613.74h17.07M1481.47 617.89h17.07M1481.47 634.96h17.07M1481.47 636.35h17.07M1481.47 637.75h17.07M1481.47 639.14h17.07M1481.47 643.32h17.07M1481.47 644.72h17.07M1481.47 651.69h17.07M1481.47 667.03h17.07M1481.47 671.21h17.07M1481.47 674h17.07M1481.47 675.39h17.07M1481.47 676.79h17.07M1481.47 680.97h17.07M1481.47 682.37h17.07M1481.47 685.15h17.07M1481.47 689.34h17.07M1481.47 694.91h17.07M1481.47 696.31h17.07M1481.47 700.49h17.07M1481.47 707.46h17.07M1481.47 708.86h17.07M1481.47 714.44h17.07M1481.47 717.22h17.07M1481.47 718.62h17.07M1481.47 732.56h17.07M1481.47 736.75h17.07M1481.47 738.14h17.07M1481.47 745.11h17.07M1481.47 747.9h17.07M1481.47 757.66h17.07M1481.47 759.06h17.07M1481.47 761.84h17.07M1481.47 763.24h17.07M1481.47 764.63h17.07M1481.47 766.03h17.07M1481.47 773h17.07M1481.47 780.5h17.07M1481.47 781.78h17.07M1481.47 788.22h17.07M1481.47 790.79h17.07M1481.47 795.54h17.07M1481.47 816.21h17.07M1481.47 833.46h17.07M1481.47 837.35h17.07M1481.47 842.54h17.07M1481.47 855.64h17.07M1481.47 857.03h17.07M1481.47 859.81h17.07M1481.47 868.15h17.07M1481.47 876.49h17.07M1481.47 883.44h17.07M1481.47 889.36h17.07M1481.47 890.72h17.07M1481.47 893.42h17.07M1481.47 897.49h17.07M1481.47 898.84h17.07M1481.47 900.19h17.07M1481.47 904.25h17.07M1481.47 909.67h17.07M1481.47 912.38h17.07M1481.47 926.68h17.07M1481.47 930.6h17.07M1481.47 934.52h17.07M1481.47 935.83h17.07M1472.93 708.56h34.13M1472.93 709.75h34.13M1472.93 719.06h34.13M1472.93 724.86h34.13M1472.93 727.38h34.13M1472.93 728.64h34.13" stroke="#7570B3"/>
<path d="M1489.82 550.5h0.36M1489.84 994.2h0.31M1489.82 1025h0.35M1489.77 1047.4h0.45M1488.84 639.7h2.31M1482.19 738.8h15.62M1484.65 755.5h10.7M1489.34 604.03h1.32M1489.31 613.74h1.38M1489.29 617.89h1.43M1489.01 634.96h1.97M1488.96 636.35h2.09M1488.91 637.75h2.18M1488.86 639.14h2.28M1488.72 643.32h2.55M1488.68 644.72h2.65M1488.44 651.69h3.11M1487.66 667.03h4.68M1486.97 671.21h6.07M1486.5 674h7M1486.27 675.39h7.46M1486.04 676.79h7.93M1485.41 680.97h9.18M1485.26 682.37h9.47M1484.98 685.15h10.03M1484.57 689.34h10.87M1484.01 694.91h11.98M1483.87 696.31h12.26M1483.45 700.49h13.1M1482.75 707.46h14.49M1482.61 708.86h14.77M1482.06 714.44h15.89M1481.78 717.22h16.44M1481.64 718.62h16.72M1481.3 722.8h17.4M1481.18 728.38h17.65M1481.7 732.56h16.61M1482.09 736.75h15.83M1482.16 738.14h15.69M1482.53 745.11h14.95M1482.79 747.9h14.42M1485.3 757.66h9.4M1485.71 759.06h8.58M1486.35 761.84h7.31M1486.61 763.24h6.79M1486.87 764.63h6.26M1487.13 766.03h5.74M1487.88 773h4.25M1488.39 780.5h3.23M1488.4 781.78h3.2M1488.4 788.22h3.2M1488.4 790.79h3.2M1488.4 795.54h3.2M1488.4 816.21h3.2M1488.41 833.46h3.19M1488.41 837.35h3.18M1488.42 842.54h3.16M1488.44 855.64h3.13M1488.44 857.03h3.12M1488.44 859.81h3.11M1488.45 868.15h3.09M1488.47 876.49h3.07M1488.48 883.44h3.05M1488.49 889.36h3.03M1488.49 890.72h3.03M1488.49 893.42h3.02M1488.5 897.49h3.01M1488.5 898.84h3M1488.51 900.19h2.98M1488.57 904.25h2.85M1488.67 909.67h2.66M1488.72 912.38h2.57M1488.97 926.68h2.07M1489.03 930.6h1.93M1489.1 934.52h1.81M1489.11 935.83h1.77" stroke="#fff" class="wi"/>
<path d="M1481.47 461.5h17.07M1481.47 556.3h17.07M1481.47 563.8h17.07M1481.47 568.5h17.07M1481.47 584.8h17.07M1481.47 947.8h17.07M1481.47 954.6h17.07M1481.47 956h17.07M1481.47 965.2h17.07M1481.47 1014.3h17.07M1481.47 1048.8h17.07M1481.47 601.26h17.07M1481.47 606.81h17.07M1481.47 609.58h17.07M1481.47 612.35h17.07M1481.47 619.28h17.07M1481.47 620.67h17.07M1481.47 622.05h17.07M1481.47 633.56h17.07M1481.47 640.53h17.07M1481.47 647.51h17.07M1481.47 648.9h17.07M1481.47 650.29h17.07M1481.47 653.08h17.07M1481.47 654.48h17.07M1481.47 655.87h17.07M1481.47 658.66h17.07M1481.47 668.42h17.07M1481.47 679.58h17.07M1481.47 686.55h17.07M1481.47 687.94h17.07M1481.47 690.73h17.07M1481.47 692.13h17.07M1481.47 693.52h17.07M1481.47 703.28h17.07M1481.47 706.07h17.07M1481.47 710.25h17.07M1481.47 733.96h17.07M1481.47 735.35h17.07M1481.47 742.32h17.07M1481.47 743.72h17.07M1481.47 750.69h17.07M1481.47 753.48h17.07M1481.47 754.87h17.07M1481.47 756.27h17.07M1481.47 760.45h17.07M1481.47 767.42h17.07M1481.47 768.82h17.07M1481.47 770.21h17.07M1481.47 771.6h17.07M1481.47 775.79h17.07M1481.47 784.36h17.07M1481.47 785.64h17.07M1481.47 794.21h17.07M1481.47 796.87h17.07M1481.47 799.52h17.07M1481.47 800.85h17.07M1481.47 802.17h17.07M1481.47 807.48h17.07M1481.47 808.81h17.07M1481.47 810.13h17.07M1481.47 812.79h17.07M1481.47 821.7h17.07M1481.47 823.07h17.07M1481.47 829.56h17.07M1481.47 830.86h17.07M1481.47 832.16h17.07M1481.47 839.95h17.07M1481.47 843.84h17.07M1481.47 854.25h17.07M1481.47 861.2h17.07M1481.47 862.59h17.07M1481.47 863.98h17.07M1481.47 869.54h17.07M1481.47 872.32h17.07M1481.47 875.1h17.07M1481.47 877.88h17.07M1481.47 880.66h17.07M1481.47 882.05h17.07M1481.47 892.07h17.07M1481.47 902.9h17.07M1481.47 905.61h17.07M1481.47 908.31h17.07M1481.47 913.73h17.07M1481.47 916.44h17.07M1481.47 924.07h17.07M1481.47 925.38h17.07M1481.47 927.99h17.07M1481.47 937.13h17.07M1472.93 726.12h34.13M1472.93 731.6h34.13" stroke="#7570B3"/>
<path d="M1489.92 461.5h0.17M1489.73 556.3h0.53M1489.74 563.8h0.52M1489.81 568.5h0.39M1489.81 584.8h0.39M1489.65 947.8h0.7M1489.76 954.6h0.47M1489.77 956h0.46M1489.87 965.2h0.26M1489.89 1014.3h0.22M1489.79 1048.8h0.43M1489.33 601.26h1.33M1489.34 606.81h1.32M1489.33 609.58h1.34M1489.32 612.35h1.37M1489.28 619.28h1.45M1489.27 620.67h1.46M1489.26 622.05h1.48M1489.1 633.56h1.81M1488.82 640.53h2.37M1488.58 647.51h2.83M1488.54 648.9h2.93M1488.49 650.29h3.02M1488.4 653.08h3.21M1488.35 654.48h3.3M1488.3 655.87h3.39M1488.21 658.66h3.58M1487.43 668.42h5.14M1485.59 679.58h8.83M1484.85 686.55h10.31M1484.71 687.94h10.59M1484.43 690.73h11.15M1484.29 692.13h11.43M1484.15 693.52h11.7M1483.17 703.28h13.66M1482.89 706.07h14.21M1482.48 710.25h15.05M1481.4 721.41h17.2M1481.11 725.59h17.79M1481.07 726.98h17.86M1481.35 729.77h17.31M1481.87 733.96h16.27M1482 735.35h16M1482.37 742.32h15.27M1482.44 743.72h15.12M1483.23 750.69h13.54M1484.04 753.48h11.91M1484.46 754.87h11.08M1484.88 756.27h10.24M1486.06 760.45h7.88M1487.37 767.42h5.25M1487.55 768.82h4.9M1487.67 770.21h4.67M1487.77 771.6h4.46M1488.08 775.79h3.83M1488.4 784.36h3.2M1488.4 785.64h3.2M1488.4 794.21h3.2M1488.4 796.87h3.2M1488.4 799.52h3.2M1488.4 800.85h3.2M1488.4 802.17h3.2M1488.4 807.48h3.2M1488.4 808.81h3.2M1488.4 810.13h3.2M1488.4 812.79h3.2M1488.4 821.7h3.2M1488.4 823.07h3.2M1488.4 829.56h3.2M1488.4 830.86h3.2M1488.4 832.16h3.19M1488.41 839.95h3.17M1488.42 843.84h3.16M1488.43 854.25h3.13M1488.44 861.2h3.11M1488.45 862.59h3.11M1488.45 863.98h3.1M1488.46 869.54h3.09M1488.46 872.32h3.08M1488.46 875.1h3.07M1488.47 877.88h3.06M1488.47 880.66h3.06M1488.47 882.05h3.05M1488.49 892.07h3.02M1488.55 902.9h2.9M1488.6 905.61h2.8M1488.65 908.31h2.71M1488.74 913.73h2.52M1488.79 916.44h2.42M1488.92 924.07h2.16M1488.94 925.38h2.11M1488.99 927.99h2.02M1489.13 937.13h1.74" stroke="#fff" class="wi"/>
<path d="M1481.47 492.5h17.07M1481.47 496.3h17.07M1481.47 559h17.07M1481.47 583.2h17.07M1481.47 595h17.07M1481.47 990.8h17.07M1481.47 1028.3h17.07M1481.47 1042.3h17.07M1472.93 700.3h34.13M1464.4 715.5h51.2M1472.93 733.8h34.13M1472.93 750.3h34.13M1472.93 833.7h34.13M1481.47 602.65h17.07M1481.47 605.42h17.07M1481.47 608.19h17.07M1481.47 610.96h17.07M1481.47 615.12h17.07M1481.47 616.51h17.07M1481.47 623.44h17.07M1481.47 641.93h17.07M1481.47 646.11h17.07M1481.47 657.27h17.07M1481.47 660.06h17.07M1481.47 661.45h17.07M1481.47 662.84h17.07M1481.47 664.24h17.07M1481.47 665.63h17.07M1481.47 669.82h17.07M1481.47 672.6h17.07M1481.47 678.18h17.07M1481.47 683.76h17.07M1481.47 697.7h17.07M1481.47 699.1h17.07M1481.47 701.89h17.07M1481.47 704.67h17.07M1481.47 711.65h17.07M1481.47 713.04h17.07M1481.47 715.83h17.07M1481.47 720.01h17.07M1481.47 731.17h17.07M1481.47 739.53h17.07M1481.47 740.93h17.07M1481.47 746.51h17.07M1481.47 749.29h17.07M1481.47 752.08h17.07M1481.47 774.39h17.07M1481.47 779.21h17.07M1481.47 783.07h17.07M1481.47 786.93h17.07M1481.47 789.5h17.07M1481.47 798.19h17.07M1481.47 803.5h17.07M1481.47 804.83h17.07M1481.47 806.15h17.07M1481.47 811.46h17.07M1481.47 817.58h17.07M1481.47 818.95h17.07M1481.47 820.33h17.07M1481.47 824.44h17.07M1481.47 834.75h17.07M1481.47 836.05h17.07M1481.47 838.65h17.07M1481.47 841.24h17.07M1481.47 845.14h17.07M1481.47 852.86h17.07M1481.47 858.42h17.07M1481.47 865.37h17.07M1481.47 866.76h17.07M1481.47 870.93h17.07M1481.47 873.71h17.07M1481.47 879.27h17.07M1481.47 894.78h17.07M1481.47 896.13h17.07M1481.47 901.55h17.07M1481.47 906.96h17.07M1481.47 911.02h17.07M1481.47 915.08h17.07M1481.47 922.76h17.07M1481.47 929.29h17.07M1481.47 931.91h17.07M1481.47 933.21h17.07M1481.47 938.44h17.07M1472.93 710.94h34.13M1472.93 720.1h34.13M1472.93 721.14h34.13" stroke="#7570B3"/>
<path d="M1489.85 492.5h0.31M1489.85 496.3h0.31M1489.72 559h0.56M1489.81 583.2h0.37M1489.48 595h1.04M1489.84 990.8h0.31M1489.83 1028.3h0.34M1489.8 1042.3h0.4M1483.47 700.3h13.06M1481.95 715.5h16.1M1481.85 733.8h16.31M1483.14 750.3h13.72M1488.41 833.7h3.19M1489.34 602.65h1.33M1489.34 605.42h1.32M1489.34 608.19h1.33M1489.32 610.96h1.35M1489.3 615.12h1.4M1489.29 616.51h1.41M1489.25 623.44h1.5M1488.77 641.93h2.46M1488.63 646.11h2.74M1488.26 657.27h3.48M1488.17 660.06h3.67M1488.12 661.45h3.76M1488.07 662.84h3.86M1488.01 664.24h3.98M1487.88 665.63h4.25M1487.2 669.82h5.61M1486.73 672.6h6.53M1485.8 678.18h8.39M1485.12 683.76h9.75M1483.73 697.7h12.54M1483.59 699.1h12.82M1483.31 701.89h13.38M1483.03 704.67h13.93M1482.34 711.65h15.33M1482.2 713.04h15.61M1481.92 715.83h16.17M1481.51 720.01h16.98M1481.2 724.2h17.6M1481.52 731.17h16.96M1482.23 739.53h15.55M1482.3 740.93h15.41M1482.65 746.51h14.7M1482.95 749.29h14.09M1483.63 752.08h12.75M1487.98 774.39h4.04M1488.33 779.21h3.33M1488.4 783.07h3.2M1488.4 786.93h3.2M1488.4 789.5h3.2M1488.4 798.19h3.2M1488.4 803.5h3.2M1488.4 804.83h3.2M1488.4 806.15h3.2M1488.4 811.46h3.2M1488.4 817.58h3.2M1488.4 818.95h3.2M1488.4 820.33h3.2M1488.4 824.44h3.2M1488.41 834.75h3.19M1488.41 836.05h3.18M1488.41 838.65h3.18M1488.42 841.24h3.17M1488.42 845.14h3.16M1488.43 852.86h3.13M1488.44 858.42h3.12M1488.45 865.37h3.1M1488.45 866.76h3.09M1488.46 870.93h3.08M1488.46 873.71h3.08M1488.47 879.27h3.06M1488.49 894.78h3.01M1488.49 896.13h3.01M1488.53 901.55h2.95M1488.62 906.96h2.76M1488.69 911.02h2.61M1488.76 915.08h2.47M1488.9 922.76h2.2M1489.01 929.29h1.98M1489.06 931.91h1.89M1489.08 933.21h1.85M1489.14 938.44h1.72" stroke="#fff" class="wi"/></g>
<g><path d="M1596 705H1597V718H1596ZM1596 718H1598V719H1596ZM1595 719H1598V724H1595ZM1595 724H1599V725H1595ZM1594 725H1599V727H1594ZM1594 727H1600V728H1594ZM1593 728H1600V729H1593ZM1593 729H1601V730H1593ZM1592 730H1601V731H1592ZM1592 731H1602V732H1592ZM1591 732H1602V733H1591ZM1590 733H1603V734H1590ZM1590 734H1604V735H1590ZM1589 735H1604V736H1589ZM1589 736H1605V737H1589ZM1588 737H1605V738H1588ZM1587 738H1606V739H1587ZM1587 739H1607V740H1587ZM1586 740H1607V741H1586ZM1585 741H1608V742H1585ZM1584 742H1610V743H1584ZM1582 743H1611V744H1582ZM1580 744H1614V745H1580ZM1578 745H1615V746H1578ZM1577 746H1617V747H1577ZM1575 747H1618V748H1575ZM1574 748H1619V749H1574ZM1573 749H1620V750H1573ZM1572 750H1621V751H1572ZM1571 751H1622V753H1571ZM1572 753H1621V754H1572ZM1573 754H1620V755H1573ZM1574 755H1620V756H1574ZM1575 756H1619V757H1575ZM1576 757H1617V758H1576ZM1577 758H1616V759H1577ZM1579 759H1614V760H1579ZM1581 760H1613V761H1581ZM1583 761H1611V762H1583ZM1584 762H1609V763H1584ZM1586 763H1608V764H1586ZM1587 764H1607V765H1587ZM1588 765H1606V766H1588ZM1588 766H1605V767H1588ZM1589 767H1604V768H1589ZM1590 768H1603V769H1590ZM1591 769H1603V770H1591ZM1591 770H1602V771H1591ZM1592 771H1601V772H1592ZM1593 772H1601V773H1593ZM1593 773H1600V774H1593ZM1594 774H1600V777H1594ZM1594 777H1599V783H1594ZM1595 783H1599V786H1595ZM1595 786H1598V793H1595ZM1596 793H1598V802H1596ZM1595 802H1598V897H1595ZM1596 897H1598V909H1596ZM1596 909H1597V925H1596ZM1596 954H1597V976H1596ZM1596 988H1597V1021H1596Z" class="bn" style="fill:#E7298A"/>
<path d="M1588.13 716.7h17.07M1588.13 721h17.07M1588.13 868h17.07M1588.13 962.7h17.07M1588.13 968.7h17.07M1588.13 994h17.07M1588.13 995.5h17.07M1588.13 1071.6h17.07M1588.13 725.86h17.07M1588.13 778.08h17.07M1588.13 784.95h17.07M1588.13 789.07h17.07M1588.13 794.56h17.07M1588.13 803.26h17.07M1588.13 805.82h17.07M1588.13 818.66h17.07M1588.13 819.96h17.07M1588.13 831.56h17.07M1588.13 832.93h17.07M1588.13 846.6h17.07M1588.13 847.97h17.07M1588.13 849.34h17.07M1588.13 850.7h17.07M1588.13 852.07h17.07M1588.13 875.52h17.07M1588.13 878.16h17.07M1588.13 880.8h17.07M1588.13 882.12h17.07M1588.13 901.22h17.07M1588.13 903.83h17.07M1588.13 940.76h17.07M1588.13 943.32h17.07M1588.13 944.6h17.07M1588.13 948.44h17.07" stroke="#E7298A"/>
<path d="M1595.96 716.7h1.42M1595.23 721h2.87M1595.14 868h3.05M1596.44 962.7h0.45M1596.45 968.7h0.43M1596.43 994h0.48M1596.42 995.5h0.49M1596.55 1071.6h0.23M1594.26 725.86h4.81M1585.54 740.98h22.26M1581.41 743.72h30.51M1578.66 745.1h36.02M1576.63 746.47h40.08M1575.05 747.85h43.23M1573.54 749.22h46.26M1575.82 757.46h41.7M1577.8 758.84h37.74M1593.97 778.08h5.4M1594.68 784.95h3.97M1595.1 789.07h3.13M1595.65 794.56h2.03M1595.39 803.26h2.55M1595.27 805.82h2.8M1595.16 818.66h3.02M1595.15 819.96h3.04M1595.07 831.56h3.19M1595.07 832.93h3.19M1595.1 846.6h3.13M1595.1 847.97h3.13M1595.11 849.34h3.12M1595.11 850.7h3.12M1595.11 852.07h3.11M1595.16 875.52h3.02M1595.16 878.16h3.01M1595.18 880.8h2.97M1595.21 882.12h2.92M1595.57 901.22h2.19M1595.62 903.83h2.09M1596.62 940.76h0.1M1596.62 943.32h0.09M1596.62 944.6h0.1M1596.58 948.44h0.18" stroke="#fff" class="wi"/>
<path d="M1588.13 912.5h17.07M1588.13 919h17.07M1588.13 953.8h17.07M1588.13 979.7h17.07M1588.13 1018.3h17.07M1571.07 745.3h51.2M1579.6 777.8h34.13M1588.13 727.24h17.07M1588.13 732.73h17.07M1588.13 735.48h17.07M1588.13 772.58h17.07M1588.13 773.95h17.07M1588.13 776.7h17.07M1588.13 779.45h17.07M1588.13 783.57h17.07M1588.13 786.32h17.07M1588.13 791.82h17.07M1588.13 793.19h17.07M1588.13 795.94h17.07M1588.13 804.54h17.07M1588.13 810.94h17.07M1588.13 822.55h17.07M1588.13 823.84h17.07M1588.13 838.4h17.07M1588.13 839.77h17.07M1588.13 841.13h17.07M1588.13 842.5h17.07M1588.13 853.44h17.07M1588.13 871.56h17.07M1588.13 872.88h17.07M1588.13 874.2h17.07M1588.13 879.48h17.07M1588.13 883.44h17.07M1588.13 892.07h17.07M1588.13 893.38h17.07M1588.13 894.68h17.07M1588.13 897.3h17.07M1588.13 898.6h17.07M1588.13 899.91h17.07M1588.13 902.52h17.07M1588.13 942.04h17.07M1588.13 945.88h17.07" stroke="#E7298A"/>
<path d="M1596.03 912.5h1.27M1596.27 919h0.79M1596.51 953.8h0.32M1596.52 979.7h0.3M1596.44 1018.3h0.46M1578.28 745.3h36.77M1593.94 777.8h5.46M1593.72 727.24h5.9M1590.92 732.73h11.5M1589.19 735.48h14.95M1587.45 738.23h18.43M1586.53 739.6h20.27M1572.06 750.59h49.21M1571.8 753.34h49.73M1580.26 760.21h32.81M1582.76 761.59h27.81M1592.87 772.58h7.59M1593.45 773.95h6.43M1593.82 776.7h5.69M1594.11 779.45h5.12M1594.54 783.57h4.25M1594.83 786.32h3.68M1595.38 791.82h2.58M1595.52 793.19h2.3M1595.77 795.94h1.79M1595.31 804.54h2.71M1595.22 810.94h2.9M1595.13 822.55h3.08M1595.12 823.84h3.1M1595.08 838.4h3.17M1595.09 839.77h3.16M1595.09 841.13h3.16M1595.09 842.5h3.15M1595.11 853.44h3.11M1595.15 871.56h3.03M1595.15 872.88h3.03M1595.16 874.2h3.02M1595.17 879.48h3M1595.23 883.44h2.87M1595.4 892.07h2.54M1595.42 893.38h2.49M1595.45 894.68h2.44M1595.5 897.3h2.34M1595.52 898.6h2.29M1595.55 899.91h2.24M1595.6 902.52h2.14M1596.62 942.04h0.09M1596.61 945.88h0.12" stroke="#fff" class="wi"/>
<path d="M1588.13 700.6h17.07M1588.13 712.3h17.07M1588.13 866.5h17.07M1588.13 931.5h17.07M1588.13 1008.3h17.07M1588.13 1013.7h17.07M1588.13 1042.2h17.07M1579.6 742.3h34.13M1554 752h85.33M1571.07 758h51.2M1579.6 762.7h34.13M1588.13 728.61h17.07M1588.13 729.98h17.07M1588.13 731.36h17.07M1588.13 734.11h17.07M1588.13 736.85h17.07M1588.13 767.08h17.07M1588.13 768.46h17.07M1588.13 769.83h17.07M1588.13 771.21h17.07M1588.13 775.33h17.07M1588.13 780.82h17.07M1588.13 782.2h17.07M1588.13 787.69h17.07M1588.13 790.44h17.07M1588.13 807.1h17.07M1588.13 808.38h17.07M1588.13 809.66h17.07M1588.13 817.36h17.07M1588.13 821.25h17.07M1588.13 825.14h17.07M1588.13 826.44h17.07M1588.13 834.3h17.07M1588.13 835.66h17.07M1588.13 837.03h17.07M1588.13 843.87h17.07M1588.13 845.23h17.07M1588.13 876.84h17.07M1588.13 890.76h17.07M1588.13 895.99h17.07M1588.13 905.14h17.07M1588.13 947.16h17.07" stroke="#E7298A"/>
<path d="M1596.53 700.6h0.27M1596.35 712.3h0.64M1595.14 866.5h3.05M1596.54 931.5h0.26M1596.42 1008.3h0.49M1596.39 1013.7h0.56M1596.55 1042.2h0.23M1584.11 742.3h25.12M1571.2 752h50.94M1576.49 758h40.36M1584.56 762.7h24.21M1593.17 728.61h7M1592.55 729.98h8.24M1591.77 731.36h9.8M1590.06 734.11h13.22M1588.33 736.85h16.68M1584.02 742.35h25.3M1571.21 751.97h50.91M1573.05 754.72h47.24M1574.35 756.09h44.63M1584.9 762.96h23.54M1586.5 764.34h20.33M1587.81 765.71h17.72M1588.94 767.08h15.46M1589.95 768.46h13.43M1590.95 769.83h11.44M1591.95 771.21h9.44M1593.68 775.33h5.98M1594.25 780.82h4.83M1594.4 782.2h4.54M1594.97 787.69h3.4M1595.24 790.44h2.85M1595.25 807.1h2.83M1595.24 808.38h2.85M1595.23 809.66h2.87M1595.17 817.36h3M1595.14 821.25h3.06M1595.11 825.14h3.12M1595.1 826.44h3.14M1595.08 834.3h3.18M1595.08 835.66h3.18M1595.08 837.03h3.17M1595.09 843.87h3.14M1595.1 845.23h3.14M1595.16 876.84h3.01M1595.37 890.76h2.59M1595.47 895.99h2.39M1595.65 905.14h2.04M1596.59 947.16h0.15" stroke="#fff" class="wi"/></g>
<g><path d="M1703 654H1704V662H1703ZM1702 662H1704V667H1702ZM1702 667H1705V675H1702ZM1701 675H1705V684H1701ZM1701 684H1706V695H1701ZM1700 695H1706V700H1700ZM1700 700H1707V703H1700ZM1699 703H1707V705H1699ZM1699 705H1708V708H1699ZM1698 708H1708V709H1698ZM1698 709H1709V712H1698ZM1697 712H1709V714H1697ZM1697 714H1710V717H1697ZM1696 717H1710V719H1696ZM1696 719H1711V724H1696ZM1695 724H1711V726H1695ZM1695 726H1712V730H1695ZM1694 730H1712V732H1694ZM1694 732H1713V744H1694ZM1693 744H1713V760H1693ZM1694 760H1713V763H1694ZM1694 763H1712V765H1694ZM1695 765H1712V767H1695ZM1695 767H1711V768H1695ZM1696 768H1711V770H1696ZM1696 770H1710V771H1696ZM1697 771H1710V772H1697ZM1697 772H1709V773H1697ZM1698 773H1709V775H1698ZM1698 775H1708V776H1698ZM1699 776H1708V779H1699ZM1699 779H1707V780H1699ZM1700 780H1707V783H1700ZM1700 783H1706V788H1700ZM1701 788H1706V800H1701ZM1701 800H1705V805H1701ZM1702 805H1705V818H1702ZM1702 818H1704V826H1702ZM1703 826H1704V865H1703ZM1703 868H1704V905H1703ZM1703 921H1704V938H1703ZM1703 948H1704V962H1703Z" class="bn" style="fill:#66A61E"/>
<path d="M1694.8 460.5h17.07M1694.8 639.8h17.07M1694.8 663h17.07M1694.8 839.5h17.07M1694.8 847.8h17.07M1694.8 878.3h17.07M1694.8 884.5h17.07M1694.8 958h17.07M1694.8 925.2h17.07M1686.27 730.3h34.13M1694.8 672.44h17.07M1694.8 678.01h17.07M1694.8 680.79h17.07M1694.8 686.36h17.07M1694.8 691.93h17.07M1694.8 693.32h17.07M1694.8 694.72h17.07M1694.8 698.89h17.07M1694.8 701.68h17.07M1694.8 703.07h17.07M1694.8 705.86h17.07M1694.8 711.42h17.07M1694.8 712.82h17.07M1694.8 714.21h17.07M1694.8 723.96h17.07M1694.8 769.9h17.07M1694.8 774.08h17.07M1694.8 785.22h17.07M1694.8 794.21h17.07M1694.8 796.98h17.07M1694.8 798.36h17.07M1694.8 801.12h17.07M1694.8 820.23h17.07M1694.8 821.43h17.07M1694.8 822.64h17.07M1686.27 711.56h34.13M1686.27 712.94h34.13M1686.27 735.06h34.13M1686.27 735.85h34.13M1686.27 743.4h34.13M1686.27 753.64h34.13M1686.27 758.63h34.13" stroke="#66A61E"/>
<path d="M1703.2 460.5h0.27M1703.2 639.8h0.27M1702.44 663h1.79M1702.98 839.5h0.71M1703.03 847.8h0.61M1702.89 878.3h0.89M1702.91 884.5h0.86M1703.1 958h0.47M1703.1 925.2h0.46M1694.49 730.3h17.7M1701.67 672.44h3.34M1701.37 678.01h3.93M1701.29 680.79h4.08M1701.04 686.36h4.6M1700.71 691.93h5.25M1700.63 693.32h5.41M1700.54 694.72h5.58M1700.29 698.89h6.09M1699.86 701.68h6.94M1699.55 703.07h7.56M1698.94 705.86h8.79M1697.7 711.42h11.26M1697.39 712.82h11.88M1697.09 714.21h12.5M1695.44 723.96h15.79M1693.95 735.09h18.77M1693.61 742.06h19.44M1693.41 746.23h19.84M1693.23 751.8h20.2M1693.23 754.59h20.2M1693.61 760.16h19.45M1694.17 762.94h18.32M1696.21 769.9h14.25M1697.86 774.08h10.96M1700.34 785.22h5.99M1700.82 794.21h5.02M1700.97 796.98h4.73M1701.05 798.36h4.58M1701.21 801.12h4.24M1702.26 820.23h2.14M1702.34 821.43h2M1702.41 822.64h1.84" stroke="#fff" class="wi"/>
<path d="M1694.8 833h17.07M1694.8 883h17.07M1694.8 896.7h17.07M1694.8 938h17.07M1694.8 953.3h17.07M1686.27 776.2h34.13M1686.27 795.5h34.13M1694.8 668.26h17.07M1694.8 669.65h17.07M1694.8 675.22h17.07M1694.8 676.62h17.07M1694.8 679.4h17.07M1694.8 683.58h17.07M1694.8 697.5h17.07M1694.8 700.29h17.07M1694.8 704.46h17.07M1694.8 718.39h17.07M1694.8 722.56h17.07M1694.8 767.12h17.07M1694.8 772.69h17.07M1694.8 778.26h17.07M1694.8 789.4h17.07M1694.8 790.79h17.07M1694.8 795.59h17.07M1694.8 809.41h17.07M1694.8 814.21h17.07M1694.8 815.42h17.07M1694.8 816.62h17.07M1694.8 817.82h17.07M1686.27 725.94h34.13M1686.27 736.64h34.13M1686.27 749.56h34.13M1686.27 757.36h34.13M1686.27 762.44h34.13" stroke="#66A61E"/>
<path d="M1702.81 833h1.05M1702.88 883h0.91M1703.06 896.7h0.55M1703.17 938h0.33M1703.09 953.3h0.48M1698.52 776.2h9.64M1700.89 795.5h4.89M1702.03 668.26h2.6M1701.88 669.65h2.91M1701.48 675.22h3.72M1701.41 676.62h3.85M1701.33 679.4h4.01M1701.19 683.58h4.28M1700.38 697.5h5.91M1700.13 700.29h6.41M1699.24 704.46h8.18M1696.28 718.39h14.11M1695.65 722.56h15.37M1694.6 729.52h17.46M1694.39 730.92h17.88M1693.88 736.49h18.91M1693.81 737.88h19.04M1693.75 739.27h19.17M1693.68 740.66h19.31M1693.55 743.45h19.57M1693.28 749.02h20.1M1693.24 750.41h20.18M1693.37 758.76h19.93M1693.89 761.55h18.89M1694.75 765.73h17.17M1695.14 767.12h16.38M1697.31 772.69h12.04M1699.02 778.26h8.63M1700.56 789.4h5.54M1700.64 790.79h5.39M1700.9 795.59h4.87M1701.79 809.41h3.09M1702.03 814.21h2.61M1702.08 815.42h2.51M1702.13 816.62h2.42M1702.17 817.82h2.33" stroke="#fff" class="wi"/>
<path d="M1694.8 661h17.07M1694.8 827.5h17.07M1694.8 831.5h17.07M1694.8 853.2h17.07M1694.8 860.5h17.07M1694.8 876.8h17.07M1694.8 900.5h17.07M1686.27 719.5h34.13M1694.8 671.05h17.07M1694.8 673.83h17.07M1694.8 682.19h17.07M1694.8 684.97h17.07M1694.8 687.76h17.07M1694.8 689.15h17.07M1694.8 690.54h17.07M1694.8 696.11h17.07M1694.8 707.25h17.07M1694.8 708.64h17.07M1694.8 710.03h17.07M1694.8 715.6h17.07M1694.8 716.99h17.07M1694.8 719.78h17.07M1694.8 721.17h17.07M1694.8 725.35h17.07M1694.8 726.74h17.07M1694.8 728.13h17.07M1694.8 768.51h17.07M1694.8 771.29h17.07M1694.8 775.47h17.07M1694.8 776.86h17.07M1694.8 779.65h17.07M1694.8 781.04h17.07M1694.8 782.43h17.07M1694.8 783.83h17.07M1694.8 786.61h17.07M1694.8 788h17.07M1694.8 799.74h17.07M1694.8 802.5h17.07M1694.8 803.88h17.07M1694.8 805.26h17.07M1694.8 806.64h17.07M1694.8 808.02h17.07M1694.8 810.79h17.07M1694.8 819.03h17.07M1686.27 725.06h34.13M1686.27 740.25h34.13M1686.27 750.92h34.13M1686.27 752.28h34.13M1686.27 759.9h34.13M1686.27 761.17h34.13" stroke="#66A61E"/>
<path d="M1702.64 661h1.39M1702.54 827.5h1.58M1702.75 831.5h1.18M1703.03 853.2h0.61M1703.11 860.5h0.45M1702.92 876.8h0.82M1703.08 900.5h0.5M1696.11 719.5h14.44M1701.76 671.05h3.15M1701.57 673.83h3.53M1701.25 682.19h4.16M1701.12 684.97h4.43M1700.95 687.76h4.76M1700.87 689.15h4.92M1700.79 690.54h5.09M1700.46 696.11h5.74M1698.63 707.25h9.41M1698.32 708.64h10.03M1698.01 710.03h10.65M1696.78 715.6h13.11M1696.51 716.99h13.65M1696.07 719.78h14.53M1695.86 721.17h14.95M1695.23 725.35h16.2M1695.02 726.74h16.62M1694.81 728.13h17.04M1694.19 732.31h18.29M1694.04 733.7h18.59M1693.48 744.84h19.71M1693.35 747.63h19.97M1693.23 753.19h20.2M1693.23 755.98h20.2M1693.25 757.37h20.17M1694.45 764.33h17.76M1695.65 768.51h15.36M1696.76 771.29h13.15M1698.32 775.47h10.03M1698.68 776.86h9.3M1699.35 779.65h7.96M1699.69 781.04h7.29M1700.01 782.43h6.65M1700.23 783.83h6.21M1700.41 786.61h5.84M1700.49 788h5.69M1701.12 799.74h4.42M1701.31 802.5h4.05M1701.41 803.88h3.86M1701.5 805.26h3.66M1701.6 806.64h3.47M1701.69 808.02h3.28M1701.87 810.79h2.93M1702.21 819.03h2.25" stroke="#fff" class="wi"/></g>
<g><path d="M1809 734H1811V737H1809ZM1808 737H1812V738H1808ZM1807 738H1813V740H1807ZM1806 740H1814V741H1806ZM1805 741H1815V742H1805ZM1803 742H1817V743H1803ZM1802 743H1818V744H1802ZM1800 744H1820V745H1800ZM1798 745H1822V746H1798ZM1795 746H1825V747H1795ZM1791 747H1829V748H1791ZM1788 748H1832V749H1788ZM1784 749H1836V750H1784ZM1781 750H1839V751H1781ZM1778 751H1842V752H1778ZM1775 752H1845V753H1775ZM1772 753H1848V754H1772ZM1771 754H1849V755H1771ZM1769 755H1851V758H1769ZM1772 758H1848V759H1772ZM1774 759H1846V760H1774ZM1777 760H1843V761H1777ZM1780 761H1840V762H1780ZM1785 762H1835V763H1785ZM1789 763H1831V764H1789ZM1792 764H1828V765H1792ZM1795 765H1825V766H1795ZM1797 766H1823V767H1797ZM1799 767H1821V768H1799ZM1801 768H1819V769H1801ZM1803 769H1817V770H1803ZM1805 770H1815V771H1805ZM1806 771H1814V772H1806ZM1807 772H1813V774H1807ZM1808 774H1812V777H1808ZM1809 777H1811V782H1809Z" class="bn" style="fill:#E6AB02"/>
<path d="M1801.47 648.2h17.07M1801.47 739.5h17.07M1801.47 888h17.07M1758.8 756h102.4M1801.47 748.94h17.07M1801.47 772.21h17.07M1801.47 780.44h17.07M1801.47 787.56h17.07M1801.47 805.56h17.07M1801.47 806.85h17.07" stroke="#E6AB02"/>
<path d="M1809.9 648.2h0.2M1806.8 739.5h6.39M1809.9 888h0.2M1768.65 756h82.7M1801.47 748.94h17.07M1772.9 753.29h74.2M1768.85 755.75h82.31M1774.14 759.44h71.72M1806.66 772.21h6.68M1809.34 780.44h1.32M1809.56 787.56h0.88M1809.59 805.56h0.82M1809.59 806.85h0.81" stroke="#fff" class="wi"/>
<path d="M1801.47 741.2h17.07M1801.47 838.8h17.07M1801.47 860.8h17.07M1758.8 757.5h102.4M1801.47 744.91h17.07M1801.47 747.59h17.07M1801.47 774.95h17.07M1801.47 777.7h17.07M1801.47 792.27h17.07M1801.47 794.38h17.07M1801.47 808.15h17.07" stroke="#E6AB02"/>
<path d="M1805.06 741.2h9.89M1809.76 838.8h0.48M1809.8 860.8h0.39M1769.46 757.5h81.07M1801.47 744.91h17.07M1801.47 747.59h17.07M1775.99 752.06h68.02M1770.98 758.21h78.04M1807.93 774.95h4.15M1808.71 777.7h2.58M1809.57 792.27h0.86M1809.57 794.38h0.86M1809.6 808.15h0.81" stroke="#fff" class="wi"/>
<path d="M1801.47 831h17.07M1801.47 840.3h17.07M1801.47 859.3h17.07M1801.47 743.56h17.07M1801.47 746.25h17.07M1792.93 762.15h34.13M1801.47 764.86h17.07M1801.47 766.17h17.07M1801.47 767.48h17.07M1801.47 768.79h17.07M1801.47 773.58h17.07M1801.47 776.33h17.07M1801.47 779.07h17.07M1801.47 787.79h17.07M1801.47 791.21h17.07M1801.47 793.33h17.07M1801.47 795.44h17.07M1801.47 809.44h17.07" stroke="#E6AB02"/>
<path d="M1809.83 831h0.35M1809.77 840.3h0.46M1809.8 859.3h0.39M1801.89 743.56h16.23M1801.47 746.25h17.07M1770.55 754.52h78.91M1768.84 756.98h82.32M1792.93 762.15h34.13M1801.47 764.86h17.07M1801.47 766.17h17.07M1801.47 767.48h17.07M1801.54 768.79h16.91M1807.39 773.58h5.22M1808.35 776.33h3.3M1809.05 779.07h1.91M1809.56 787.79h0.88M1809.57 791.21h0.87M1809.57 793.33h0.86M1809.57 795.44h0.85M1809.6 809.44h0.81" stroke="#fff" class="wi"/></g>
<g><path d="M1916 618H1917V623H1916ZM1916 628H1917V645H1916ZM1916 645H1918V652H1916ZM1915 652H1918V705H1915ZM1915 705H1919V713H1915ZM1914 713H1919V723H1914ZM1914 723H1920V727H1914ZM1913 727H1920V732H1913ZM1913 732H1921V734H1913ZM1912 734H1921V739H1912ZM1912 739H1922V740H1912ZM1911 740H1922V741H1911ZM1911 741H1923V742H1911ZM1910 742H1923V743H1910ZM1909 743H1924V744H1909ZM1908 744H1925V745H1908ZM1908 745H1926V746H1908ZM1907 746H1927V747H1907ZM1906 747H1928V748H1906ZM1904 748H1929V749H1904ZM1903 749H1931V750H1903ZM1901 750H1933V751H1901ZM1899 751H1934V752H1899ZM1898 752H1935V753H1898ZM1897 753H1936V754H1897ZM1897 754H1937V755H1897ZM1896 755H1937V756H1896ZM1896 756H1938V757H1896ZM1895 757H1938V759H1895ZM1896 759H1938V760H1896ZM1896 760H1937V761H1896ZM1897 761H1936V762H1897ZM1898 762H1936V763H1898ZM1898 763H1935V764H1898ZM1899 764H1934V765H1899ZM1900 765H1933V766H1900ZM1902 766H1932V767H1902ZM1903 767H1931V768H1903ZM1904 768H1929V769H1904ZM1906 769H1928V770H1906ZM1907 770H1926V771H1907ZM1908 771H1925V772H1908ZM1909 772H1924V773H1909ZM1910 773H1923V774H1910ZM1911 774H1923V775H1911ZM1911 775H1922V776H1911ZM1912 776H1921V778H1912ZM1913 778H1921V779H1913ZM1913 779H1920V780H1913ZM1914 780H1920V782H1914ZM1914 782H1919V785H1914ZM1915 785H1919V786H1915ZM1915 786H1918V789H1915ZM1916 789H1918V793H1916ZM1916 793H1917V823H1916ZM1916 854H1917V875H1916ZM1916 951H1917V955H1916Z" class="bn" style="fill:#A6761D"/>
<path d="M1908.13 816.5h17.07M1908.13 951.7h17.07M1899.6 746h34.13M1891.07 769h51.2M1908.13 657.14h17.07M1908.13 675.26h17.07M1908.13 678.04h17.07M1908.13 679.44h17.07M1908.13 680.83h17.07M1908.13 683.62h17.07M1908.13 690.59h17.07M1908.13 696.16h17.07M1908.13 698.95h17.07M1908.13 701.74h17.07M1908.13 704.52h17.07M1908.13 705.92h17.07M1908.13 710.1h17.07M1908.13 712.89h17.07M1908.13 714.28h17.07M1908.13 715.67h17.07M1908.13 721.25h17.07M1908.13 725.43h17.07M1908.13 726.83h17.07M1908.13 732.4h17.07M1908.13 733.79h17.07M1908.13 737.98h17.07M1908.13 743.55h17.07M1908.13 774.21h17.07M1908.13 778.39h17.07M1908.13 779.79h17.07M1908.13 788.15h17.07M1908.13 790.94h17.07M1908.13 795.68h17.07M1891.07 759.22h51.2M1891.07 760.44h51.2M1899.6 770.56h34.13M1899.6 770.94h34.13" stroke="#A6761D"/>
<path d="M1916.43 816.5h0.47M1916.49 951.7h0.35M1907.15 746h19.04M1904.87 769h23.59M1915.33 657.14h2.68M1915.12 675.26h3.09M1915.14 678.04h3.06M1915.15 679.44h3.04M1915.15 680.83h3.03M1915.17 683.62h3M1915.17 690.59h3M1915.13 696.16h3.08M1915.04 698.95h3.26M1914.94 701.74h3.45M1914.85 704.52h3.63M1914.8 705.92h3.73M1914.66 710.1h4.02M1914.52 712.89h4.29M1914.45 714.28h4.43M1914.38 715.67h4.57M1914.04 721.25h5.25M1913.62 725.43h6.09M1913.48 726.83h6.37M1912.81 732.4h7.72M1912.6 733.79h8.14M1911.97 737.98h9.39M1909.18 743.55h14.98M1906.82 746.34h19.69M1900.78 750.52h31.78M1898.72 751.91h35.9M1897.51 753.31h38.31M1895.98 756.09h41.37M1910.55 774.21h12.24M1912.73 778.39h7.88M1913.3 779.79h6.73M1915.26 788.15h2.82M1915.71 790.94h1.92M1915.98 795.68h1.38" stroke="#fff" class="wi"/>
<path d="M1908.13 822.8h17.07M1908.13 861.3h17.07M1908.13 862.8h17.07M1908.13 870h17.07M1908.13 954.3h17.07M1899.6 717.2h34.13M1899.6 733.7h34.13M1908.13 636.56h17.07M1908.13 637.83h17.07M1908.13 639.11h17.07M1908.13 640.38h17.07M1908.13 641.65h17.07M1908.13 642.92h17.07M1908.13 651.56h17.07M1908.13 654.35h17.07M1908.13 655.74h17.07M1908.13 658.53h17.07M1908.13 659.92h17.07M1908.13 662.71h17.07M1908.13 665.5h17.07M1908.13 666.89h17.07M1908.13 672.47h17.07M1908.13 682.23h17.07M1908.13 685.01h17.07M1908.13 689.19h17.07M1908.13 697.56h17.07M1908.13 700.34h17.07M1908.13 703.13h17.07M1908.13 711.49h17.07M1908.13 718.46h17.07M1908.13 724.04h17.07M1908.13 729.61h17.07M1908.13 735.19h17.07M1908.13 736.58h17.07M1908.13 740.76h17.07M1908.13 771.42h17.07M1908.13 772.82h17.07M1908.13 775.61h17.07M1908.13 777h17.07M1908.13 781.18h17.07M1908.13 786.76h17.07M1908.13 789.54h17.07M1908.13 799.62h17.07M1908.13 800.94h17.07M1891.07 758h51.2" stroke="#A6761D"/>
<path d="M1916.5 822.8h0.34M1916.4 861.3h0.54M1916.39 862.8h0.56M1916.41 870h0.51M1916.49 954.3h0.35M1914.31 717.2h4.72M1912.61 733.7h8.11M1916.28 636.56h0.78M1916.21 637.83h0.91M1916.15 639.11h1.04M1916.08 640.38h1.18M1916.01 641.65h1.31M1915.94 642.92h1.45M1915.52 651.56h2.3M1915.42 654.35h2.49M1915.38 655.74h2.58M1915.28 658.53h2.77M1915.24 659.92h2.86M1915.14 662.71h3.05M1915.08 665.5h3.18M1915.08 666.89h3.18M1915.11 672.47h3.12M1915.16 682.23h3.01M1915.17 685.01h3M1915.17 689.19h3M1915.08 697.56h3.17M1914.99 700.34h3.36M1914.9 703.13h3.54M1914.59 711.49h4.15M1914.24 718.46h4.85M1913.76 724.04h5.81M1913.19 729.61h6.95M1912.39 735.19h8.56M1912.18 736.58h8.97M1911.08 740.76h11.18M1896.2 760.27h40.94M1896.96 761.67h39.4M1897.92 763.06h37.49M1899.28 764.46h34.78M1902.39 767.24h28.55M1906.49 770.03h20.36M1908.29 771.42h16.75M1909.53 772.82h14.27M1911.4 775.61h10.53M1912.09 777h9.16M1913.72 781.18h5.9M1914.95 786.76h3.43M1915.53 789.54h2.27M1916.16 799.62h1.01M1916.19 800.94h0.96" stroke="#fff" class="wi"/>
<path d="M1908.13 618.3h17.07M1908.13 621.7h17.07M1908.13 805.5h17.07M1908.13 812.2h17.07M1908.13 853.7h17.07M1908.13 873h17.07M1908.13 895.3h17.07M1908.13 914.7h17.07M1899.6 744.6h34.13M1882.53 756h68.27M1908.13 644.19h17.07M1908.13 645.47h17.07M1908.13 646.74h17.07M1908.13 652.96h17.07M1908.13 661.32h17.07M1908.13 664.11h17.07M1908.13 668.29h17.07M1908.13 669.68h17.07M1908.13 671.08h17.07M1908.13 673.86h17.07M1908.13 676.65h17.07M1908.13 686.41h17.07M1908.13 687.8h17.07M1908.13 691.98h17.07M1908.13 693.38h17.07M1908.13 694.77h17.07M1908.13 707.31h17.07M1908.13 708.71h17.07M1908.13 717.07h17.07M1908.13 719.86h17.07M1908.13 722.64h17.07M1908.13 728.22h17.07M1908.13 731.01h17.07M1908.13 739.37h17.07M1908.13 742.16h17.07M1908.13 782.58h17.07M1908.13 783.97h17.07M1908.13 785.36h17.07M1908.13 794.36h17.07M1908.13 796.99h17.07M1908.13 798.31h17.07M1891.07 755.56h51.2M1891.07 756.78h51.2" stroke="#A6761D"/>
<path d="M1916.5 618.3h0.34M1916.49 621.7h0.35M1916.31 805.5h0.71M1916.42 812.2h0.49M1916.5 853.7h0.34M1916.46 873h0.42M1916.58 895.3h0.18M1916.58 914.7h0.18M1908.38 744.6h16.57M1896.03 756h41.27M1915.88 644.19h1.58M1915.81 645.47h1.72M1915.74 646.74h1.85M1915.47 652.96h2.4M1915.19 661.32h2.95M1915.1 664.11h3.13M1915.09 668.29h3.16M1915.09 669.68h3.15M1915.1 671.08h3.13M1915.12 673.86h3.1M1915.13 676.65h3.07M1915.17 686.41h3M1915.17 687.8h3M1915.17 691.98h3M1915.17 693.38h3M1915.16 694.77h3.02M1914.76 707.31h3.82M1914.71 708.71h3.91M1914.31 717.07h4.71M1914.16 719.86h5.02M1913.9 722.64h5.53M1913.35 728.22h6.64M1913.01 731.01h7.31M1911.68 739.37h9.97M1910.16 742.16h13.02M1908.11 744.94h17.12M1905.24 747.73h22.86M1903.16 749.12h27.02M1896.73 754.7h39.88M1895.44 757.49h42.46M1895.53 758.88h42.28M1900.8 765.85h31.73M1904.31 768.64h24.71M1914.03 782.58h5.27M1914.34 783.97h4.65M1914.65 785.36h4.04M1915.91 794.36h1.52M1916.05 796.99h1.24M1916.11 798.31h1.11" stroke="#fff" class="wi"/></g>
</g>
<path d="M306.0 199.1V1177.5M306.0 199.1h-30M306.0 338.87h-30M306.0 478.64h-30M306.0 618.41h-30M306.0 758.19h-30M306.0 897.96h-30M306.0 1037.73h-30M306.0 1177.5h-30" class="ax"/>
<rect x="306.0" y="186.0" width="1728.0" height="1007.8" class="ax"/>
<text transform="translate(235 199.1) rotate(-90) scale(0.99 1.04)" text-anchor="middle" font-size="50">2.0</text>
<text transform="translate(235 338.87) rotate(-90) scale(0.99 1.04)" text-anchor="middle" font-size="50">1.5</text>
<text transform="translate(235 478.64) rotate(-90) scale(0.99 1.04)" text-anchor="middle" font-size="50">1.0</text>
<text transform="translate(235 618.41) rotate(-90) scale(0.99 1.04)" text-anchor="middle" font-size="50">0.5</text>
<text transform="translate(235 758.19) rotate(-90) scale(0.99 1.04)" text-anchor="middle" font-size="50">0.0</text>
<text transform="translate(235 897.96) rotate(-90) scale(0.99 1.04)" text-anchor="middle" font-size="50">-0.5</text>
<text transform="translate(235 1037.73) rotate(-90) scale(0.99 1.04)" text-anchor="middle" font-size="50">-1.0</text>
<text transform="translate(235 1177.5) rotate(-90) scale(0.99 1.04)" text-anchor="middle" font-size="50">-1.5</text>
<text transform="translate(114.5 689.9) rotate(-90) scale(1 1.05)" text-anchor="middle" font-size="75">Copy number</text>
<text transform="translate(1170 115) scale(0.991 1.07)" text-anchor="middle" font-size="60" font-weight="bold">PROC</text>
<text transform="translate(422.43 1208.6) rotate(-60) scale(0.985 1.06)" text-anchor="end" font-size="60" dy="20.3" style="fill:#1B9E77">BLCA</text>
<text transform="translate(529.1 1208.6) rotate(-60) scale(0.985 1.06)" text-anchor="end" font-size="60" dy="20.3" style="fill:#D95F02">BRCA</text>
<text transform="translate(635.77 1208.6) rotate(-60) scale(0.985 1.06)" text-anchor="end" font-size="60" dy="20.3" style="fill:#7570B3">COAD</text>
<text transform="translate(742.43 1208.6) rotate(-60) scale(0.985 1.06)" text-anchor="end" font-size="60" dy="20.3" style="fill:#E7298A">GBM</text>
<text transform="translate(849.1 1208.6) rotate(-60) scale(0.985 1.06)" text-anchor="end" font-size="60" dy="20.3" style="fill:#66A61E">HNSC</text>
<text transform="translate(955.77 1208.6) rotate(-60) scale(0.985 1.06)" text-anchor="end" font-size="60" dy="20.3" style="fill:#E6AB02">KICH</text>
<text transform="translate(1062.43 1208.6) rotate(-60) scale(0.985 1.06)" text-anchor="end" font-size="60" dy="20.3" style="fill:#A6761D">KIRC</text>
<text transform="translate(1169.1 1208.6) rotate(-60) scale(0.985 1.06)" text-anchor="end" font-size="60" dy="20.3" style="fill:#666666">LAML</text>
<text transform="translate(1275.77 1208.6) rotate(-60) scale(0.985 1.06)" text-anchor="end" font-size="60" dy="20.3" style="fill:#1B9E77">LUAD</text>
<text transform="translate(1382.43 1208.6) rotate(-60) scale(0.985 1.06)" text-anchor="end" font-size="60" dy="20.3" style="fill:#D95F02">LUSC</text>
<text transform="translate(1489.1 1208.6) rotate(-60) scale(0.985 1.06)" text-anchor="end" font-size="60" dy="20.3" style="fill:#7570B3">OV</text>
<text transform="translate(1595.77 1208.6) rotate(-60) scale(0.985 1.06)" text-anchor="end" font-size="60" dy="20.3" style="fill:#E7298A">PRAD</text>
<text transform="translate(1702.43 1208.6) rotate(-60) scale(0.985 1.06)" text-anchor="end" font-size="60" dy="20.3" style="fill:#66A61E">SKCM</text>
<text transform="translate(1809.1 1208.6) rotate(-60) scale(0.985 1.06)" text-anchor="end" font-size="60" dy="20.3" style="fill:#E6AB02">THCA</text>
<text transform="translate(1915.77 1208.6) rotate(-60) scale(0.985 1.06)" text-anchor="end" font-size="60" dy="20.3" style="fill:#A6761D">UCEC</text>
</svg></body></html>
